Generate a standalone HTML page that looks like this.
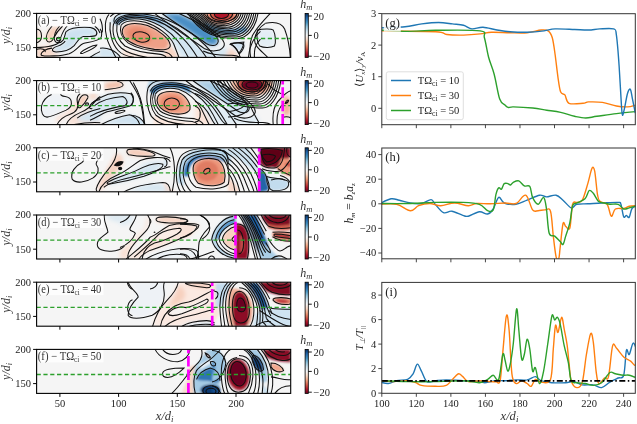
<!DOCTYPE html><html><head><meta charset="utf-8"><style>html,body{margin:0;padding:0;background:#fff;}svg{display:block;will-change:transform}text{font-family:"Liberation Serif", serif;}</style></head><body>
<svg width="637" height="424" viewBox="0 0 637 424">
<defs>
<linearGradient id="rdbu" x1="0" y1="0" x2="0" y2="1"><stop offset="0" stop-color="#053061"/><stop offset="0.1" stop-color="#2166ac"/><stop offset="0.2" stop-color="#4393c3"/><stop offset="0.3" stop-color="#92c5de"/><stop offset="0.4" stop-color="#d1e5f0"/><stop offset="0.5" stop-color="#f7f7f7"/><stop offset="0.6" stop-color="#fddbc7"/><stop offset="0.7" stop-color="#f4a582"/><stop offset="0.8" stop-color="#d6604d"/><stop offset="0.9" stop-color="#b2182b"/><stop offset="1" stop-color="#67001f"/></linearGradient>
<clipPath id="cp0"><rect x="36.6" y="13.4" width="254.1" height="44.0"/></clipPath>
<clipPath id="cp1"><rect x="36.6" y="80.60000000000001" width="254.1" height="44.0"/></clipPath>
<clipPath id="cp2"><rect x="36.6" y="147.8" width="254.1" height="44.0"/></clipPath>
<clipPath id="cp3"><rect x="36.6" y="215.00000000000003" width="254.1" height="44.0"/></clipPath>
<clipPath id="cp4"><rect x="36.6" y="282.2" width="254.1" height="44.0"/></clipPath>
<clipPath id="cp5"><rect x="36.6" y="349.4" width="254.1" height="44.0"/></clipPath>
<clipPath id="cpg"><rect x="381.8" y="13.7" width="253.49999999999994" height="111.0"/></clipPath>
<clipPath id="cph"><rect x="381.8" y="148.0" width="253.49999999999994" height="110.80000000000001"/></clipPath>
<clipPath id="cpi"><rect x="381.8" y="282.4" width="253.49999999999994" height="110.90000000000003"/></clipPath>
<filter id="bl" x="-20%" y="-50%" width="140%" height="200%"><feGaussianBlur stdDeviation="2.5"/></filter>
<filter id="blz" x="-20%" y="-50%" width="140%" height="200%"><feGaussianBlur stdDeviation="18"/></filter>
<filter id="bl2" x="-20%" y="-50%" width="140%" height="200%"><feGaussianBlur stdDeviation="1.5"/></filter>
<filter id="f_a1" x="-50%" y="-50%" width="200%" height="200%"><feGaussianBlur stdDeviation="19.90"/></filter>
<filter id="f_a2" x="-50%" y="-50%" width="200%" height="200%"><feGaussianBlur stdDeviation="13.24"/></filter>
<filter id="f_a3" x="-50%" y="-50%" width="200%" height="200%"><feGaussianBlur stdDeviation="1.20"/></filter>
<filter id="f_a4" x="-50%" y="-50%" width="200%" height="200%"><feGaussianBlur stdDeviation="13.27"/></filter>
<filter id="f_a5" x="-50%" y="-50%" width="200%" height="200%"><feGaussianBlur stdDeviation="17.66"/></filter>
<filter id="f_b1" x="-50%" y="-50%" width="200%" height="200%"><feGaussianBlur stdDeviation="19.90"/></filter>
<filter id="f_b2" x="-50%" y="-50%" width="200%" height="200%"><feGaussianBlur stdDeviation="17.66"/></filter>
<filter id="f_b3" x="-50%" y="-50%" width="200%" height="200%"><feGaussianBlur stdDeviation="11.48"/></filter>
<filter id="f_b4" x="-50%" y="-50%" width="200%" height="200%"><feGaussianBlur stdDeviation="1.00"/></filter>
<filter id="f_b5" x="-50%" y="-50%" width="200%" height="200%"><feGaussianBlur stdDeviation="13.27"/></filter>
<filter id="f_b6" x="-50%" y="-50%" width="200%" height="200%"><feGaussianBlur stdDeviation="17.66"/></filter>
<filter id="f_c1" x="-50%" y="-50%" width="200%" height="200%"><feGaussianBlur stdDeviation="9.95"/></filter>
<filter id="f_c2" x="-50%" y="-50%" width="200%" height="200%"><feGaussianBlur stdDeviation="6.47"/></filter>
<filter id="f_c3" x="-50%" y="-50%" width="200%" height="200%"><feGaussianBlur stdDeviation="10.59"/></filter>
<filter id="f_c4" x="-50%" y="-50%" width="200%" height="200%"><feGaussianBlur stdDeviation="15.93"/></filter>
<filter id="f_d1" x="-50%" y="-50%" width="200%" height="200%"><feGaussianBlur stdDeviation="9.95"/></filter>
<filter id="f_d2" x="-50%" y="-50%" width="200%" height="200%"><feGaussianBlur stdDeviation="9.95"/></filter>
<filter id="f_d3" x="-50%" y="-50%" width="200%" height="200%"><feGaussianBlur stdDeviation="8.83"/></filter>
<filter id="f_d4" x="-50%" y="-50%" width="200%" height="200%"><feGaussianBlur stdDeviation="15.93"/></filter>
<filter id="f_d5" x="-50%" y="-50%" width="200%" height="200%"><feGaussianBlur stdDeviation="11.48"/></filter>
<filter id="f_d6" x="-50%" y="-50%" width="200%" height="200%"><feGaussianBlur stdDeviation="17.66"/></filter>
<filter id="f_e1" x="-50%" y="-50%" width="200%" height="200%"><feGaussianBlur stdDeviation="13.27"/></filter>
<filter id="f_e2" x="-50%" y="-50%" width="200%" height="200%"><feGaussianBlur stdDeviation="9.95"/></filter>
<filter id="f_e3" x="-50%" y="-50%" width="200%" height="200%"><feGaussianBlur stdDeviation="8.83"/></filter>
<filter id="f_e4" x="-50%" y="-50%" width="200%" height="200%"><feGaussianBlur stdDeviation="17.66"/></filter>
<filter id="f_f1" x="-50%" y="-50%" width="200%" height="200%"><feGaussianBlur stdDeviation="9.55"/></filter>
<filter id="f_f2" x="-50%" y="-50%" width="200%" height="200%"><feGaussianBlur stdDeviation="9.55"/></filter></defs>
<rect x="36.6" y="13.4" width="254.1" height="44.0" fill="#f5f5f5"/>
<g clip-path="url(#cp0)">
<g transform="translate(36.0,26.0) scale(0.10050)"><g filter="url(#f_a1)">
 <path d="M0,20 C40,30 55,60 55,100 C55,140 40,160 0,170 Z" fill="#f9e0d3"/>
 <path d="M160,10 C120,45 95,100 105,140 C115,165 150,165 165,140 C180,110 200,60 265,10 Z" fill="#f6cdb8"/>
 <path d="M0,220 C60,200 130,190 200,220 C160,250 170,270 230,270 C280,300 150,320 0,320 Z" fill="#f8d9c9"/>
 <path d="M300,55 C340,20 450,10 540,15 C600,25 620,70 595,95 C570,110 510,100 470,105 C430,115 410,160 380,195 C340,235 270,258 200,258 C160,258 150,235 180,215 C220,195 270,190 290,150 C300,120 280,80 300,55 Z" fill="#cde2f0"/>
 <path d="M520,338 C560,300 600,270 637,255 L637,338 Z" fill="#d6e7f2"/>
</g></g>
<g transform="translate(100.0,12.0) scale(0.11328)"><g filter="url(#f_a2)">
 <path d="M200,150 C220,95 320,90 420,120 C520,160 610,230 620,290 C625,330 570,340 480,330 C380,315 270,280 220,230 C195,200 190,175 200,150 Z" fill="#eea087"/>
 <ellipse cx="350" cy="210" rx="110" ry="70" transform="rotate(15 350 210)" fill="#e98a6f"/>
 <path d="M150,115 C200,60 300,40 420,62 C520,85 600,150 640,210 L660,150 C600,80 480,30 380,22 C280,18 180,35 125,95 Z" fill="#3f87c2"/>
 <path d="M120,90 C180,30 280,15 380,20 L420,0 L250,0 C180,10 110,50 90,100 Z" fill="#b5d3e8"/>
 <path d="M0,320 C60,310 140,340 180,400 L0,400 Z" fill="#d3e5f1"/>
 <path d="M0,150 C20,170 20,220 0,240 Z" fill="#d8e8f2"/>
 <path d="M200,320 C300,370 450,385 640,400 L200,400 Z" fill="#fbe6dc"/>
 <path d="M600,280 C650,320 680,360 700,401 L560,401 Z" fill="#f7d5c5"/>
</g></g>
<g transform="translate(0.0,0.0) scale(1.00000)"><g filter="url(#f_a3)">
 <ellipse cx="221" cy="14" rx="18" ry="10.5" fill="#f4b49b"/>
 <ellipse cx="221.5" cy="14.5" rx="13" ry="7.5" fill="#d8634f"/>
 <ellipse cx="221.5" cy="15" rx="8" ry="4.5" fill="#b1182b"/>
 <path d="M206,22 C215,28 230,32 245,26 L248,31 C232,38 214,35 204,27 Z" fill="#6fa7d3"/>
</g></g>
<g transform="translate(164.0,36.0) scale(0.15072)"><g filter="url(#f_a4)">
 <path d="M-13,-149 C80,-80 200,-10 280,50 C310,70 355,70 360,35 C365,10 300,-60 100,-149 Z" fill="#4a8ec5"/>
 
 
 <path d="M-60,-149 C40,-70 180,20 270,85 C320,110 390,100 400,60 L440,142 L120,142 Z" fill="#d4e6f2"/>
 <path d="M440,50 L530,40 C525,80 510,100 500,110 C480,80 460,60 440,50 Z" fill="#c9dff0"/>
 <path d="M440,80 C470,100 490,120 500,142 L400,142 Z" fill="#f6d3c3"/>
</g></g>
<g transform="translate(228.0,12.0) scale(0.11328)"><g filter="url(#f_a5)">
 <path d="M260,160 C300,150 380,145 400,160 C420,200 425,270 410,300 C380,315 320,320 280,300 C255,270 250,200 260,160 Z" fill="#e3eef5"/>
 <path d="M20,285 C60,270 120,265 140,290 C130,300 80,300 20,285 Z" fill="#c8def0"/>
</g></g>
<g transform="translate(36.0,26.0) scale(0.10050)"><g fill="none" stroke="#111" stroke-width="1.05">
 <path vector-effect="non-scaling-stroke" d="M0,30 C40,30 55,60 55,100 C55,140 40,160 0,170"/>
 <path vector-effect="non-scaling-stroke" d="M160,0 C120,45 95,100 105,140 C115,165 150,165 165,140 C180,110 200,60 265,0"/>
 <ellipse vector-effect="non-scaling-stroke" cx="225" cy="130" rx="21" ry="18"/>
 <path vector-effect="non-scaling-stroke" d="M235,0 C190,50 175,100 185,140 C195,175 245,175 270,140 C290,105 290,70 300,55"/>
 <path vector-effect="non-scaling-stroke" d="M300,55 C340,20 450,10 540,15 C600,25 620,70 595,95 C570,110 510,100 470,105 C430,115 410,160 380,195 C340,235 270,258 200,258 C160,258 150,235 180,215 C220,195 270,190 290,150"/>
 <path vector-effect="non-scaling-stroke" d="M310,0 C260,50 250,110 230,160 C200,200 120,210 0,215"/>
 <path vector-effect="non-scaling-stroke" d="M0,235 C60,215 100,235 90,260"/>
 <path vector-effect="non-scaling-stroke" d="M50,290 C50,250 110,225 160,220"/>
 <path vector-effect="non-scaling-stroke" d="M50,290 C100,305 250,300 330,275 C400,250 430,190 470,175 C530,160 600,150 637,125"/>
 <path vector-effect="non-scaling-stroke" d="M445,265 C480,230 560,195 605,190 C600,205 540,240 470,270 C450,278 440,275 445,265 Z"/>
 <path vector-effect="non-scaling-stroke" d="M500,338 C550,300 600,270 637,255"/>
 <path vector-effect="non-scaling-stroke" d="M585,0 C610,20 630,50 637,70"/>
 <path vector-effect="non-scaling-stroke" d="M0,300 C20,310 35,320 40,338"/>
</g></g>
<g transform="translate(100.0,12.0) scale(0.11328)"><g fill="none" stroke="#111" stroke-width="1.05">
 <ellipse vector-effect="non-scaling-stroke" cx="365" cy="220" rx="75" ry="45" transform="rotate(10 365 220)"/>
 <path vector-effect="non-scaling-stroke" d="M200,150 C220,95 320,90 420,120 C520,160 610,230 620,290 C625,330 570,340 480,330 C380,315 270,280 220,230 C195,200 190,175 200,150 Z"/>
 <path vector-effect="non-scaling-stroke" d="M185,120 C210,75 300,65 400,90 C500,120 610,200 650,280 C670,330 685,370 697,401"/>
 <path vector-effect="non-scaling-stroke" d="M165,115 C190,60 290,50 400,70 C510,95 620,170 690,260 C730,310 760,360 780,401"/>
 <path vector-effect="non-scaling-stroke" d="M150,110 C175,50 280,38 400,52 C520,70 640,140 730,230 C790,290 830,350 860,401"/>
 <path vector-effect="non-scaling-stroke" d="M140,105 C160,40 260,25 390,35 C530,50 660,120 770,210 C850,280 900,340 940,401"/>
 <path vector-effect="non-scaling-stroke" d="M128,100 C140,35 240,15 380,18 C540,30 680,100 810,190 C900,260 970,330 1020,401"/>
 <path vector-effect="non-scaling-stroke" d="M185,120 C170,170 190,230 250,275 C320,320 440,345 560,350 C600,355 630,380 640,401"/>
 <path vector-effect="non-scaling-stroke" d="M150,110 C140,180 160,250 220,300 C300,345 440,365 520,372 C560,378 580,390 585,401"/>
 <path vector-effect="non-scaling-stroke" d="M120,100 C105,180 125,260 190,320 C240,360 320,385 420,401"/>
 <path vector-effect="non-scaling-stroke" d="M128,100 C110,50 140,20 230,5"/>
 <path vector-effect="non-scaling-stroke" d="M90,90 C80,170 100,270 160,340 C200,385 260,395 300,400"/>
 <path vector-effect="non-scaling-stroke" d="M80,20 C40,60 40,150 60,230 C80,300 120,360 140,400"/>
 <path vector-effect="non-scaling-stroke" d="M0,60 C20,100 25,140 20,180"/>
 <path vector-effect="non-scaling-stroke" d="M0,150 C20,170 20,220 0,240"/>
 <path vector-effect="non-scaling-stroke" d="M0,320 C60,310 140,340 180,400"/>
 <path vector-effect="non-scaling-stroke" d="M160,0 C130,10 110,20 90,40"/>
</g></g>
<g transform="translate(0.0,0.0) scale(1.00000)"><g fill="none" stroke="#111" stroke-width="1.05">
 <ellipse vector-effect="non-scaling-stroke" cx="221.5" cy="14.5" rx="7" ry="4"/>
 <ellipse vector-effect="non-scaling-stroke" cx="221.5" cy="14" rx="11" ry="6.5"/>
 <ellipse vector-effect="non-scaling-stroke" cx="222" cy="13.4" rx="15" ry="8.5"/>
<path vector-effect="non-scaling-stroke" d="M204.0,13.4 C208.6,21.1 215.1,22.5 222.5,22.5 C228.3,22.5 235.3,19.3 237.0,13.4"/>
<path vector-effect="non-scaling-stroke" d="M202.4,13.4 C207.8,22.5 215.4,24.1 224.0,24.1 C230.0,24.1 237.3,20.4 239.1,13.4"/>
<path vector-effect="non-scaling-stroke" d="M200.8,13.4 C207.0,23.9 215.6,25.7 225.5,25.7 C231.8,25.7 239.3,21.4 241.2,13.4"/>
<path vector-effect="non-scaling-stroke" d="M199.2,13.4 C206.1,25.2 215.9,27.3 227.0,27.3 C233.5,27.3 241.3,22.4 243.3,13.4"/>
<path vector-effect="non-scaling-stroke" d="M197.6,13.4 C205.3,26.6 216.1,28.9 228.5,28.9 C235.3,28.9 243.4,23.5 245.4,13.4"/>
<path vector-effect="non-scaling-stroke" d="M196.0,13.4 C204.5,27.9 216.4,30.5 230.0,30.5 C237.0,30.5 245.4,24.5 247.5,13.4"/>
<path vector-effect="non-scaling-stroke" d="M194.4,13.4 C203.7,29.3 216.7,32.1 231.5,32.1 C238.7,32.1 247.4,25.6 249.6,13.4"/>
<path vector-effect="non-scaling-stroke" d="M192.8,13.4 C202.9,30.7 216.9,33.7 233.0,33.7 C240.5,33.7 249.5,26.6 251.7,13.4"/>
<path vector-effect="non-scaling-stroke" d="M191.2,13.4 C202.0,32.0 217.2,35.3 234.5,35.3 C242.2,35.3 251.5,27.6 253.8,13.4"/>
<path vector-effect="non-scaling-stroke" d="M189.6,13.4 C201.2,33.4 217.4,36.9 236.0,36.9 C244.0,36.9 253.5,28.7 255.9,13.4"/>
<path vector-effect="non-scaling-stroke" d="M188.0,13.4 C200.4,34.7 217.7,38.5 237.5,38.5 C245.7,38.5 255.5,29.7 258.0,13.4"/>
</g></g>
<g transform="translate(164.0,36.0) scale(0.15072)"><g fill="none" stroke="#111" stroke-width="1.05">
 <path vector-effect="non-scaling-stroke" d="M-13,-149 C80,-80 200,-10 280,50 C310,70 355,70 360,35 C365,10 300,-60 100,-149"/>
 <path vector-effect="non-scaling-stroke" d="M-60,-149 C40,-70 180,20 270,85 C320,110 390,100 400,60 C405,20 330,-40 150,-149"/>
 <path vector-effect="non-scaling-stroke" d="M260,100 C300,120 380,130 450,128 C480,130 500,138 510,145"/>
 <path vector-effect="non-scaling-stroke" d="M440,50 L530,40 C525,80 510,100 495,115 C480,80 460,60 440,50"/>
 <path vector-effect="non-scaling-stroke" d="M560,145 C565,100 570,60 610,0 L640,-30"/>
 <path vector-effect="non-scaling-stroke" d="M600,145 C598,100 600,60 640,20"/>
</g></g>
<g transform="translate(228.0,12.0) scale(0.11328)"><g fill="none" stroke="#111" stroke-width="1.05">
 <path vector-effect="non-scaling-stroke" d="M260,160 C300,150 380,145 400,160 C420,200 425,270 410,300 C380,315 320,320 280,300 C255,270 250,200 260,160 Z"/>
 <path vector-effect="non-scaling-stroke" d="M330,100 C400,85 470,90 500,150 C530,230 545,320 550,400"/>
 <path vector-effect="non-scaling-stroke" d="M385,0 C330,60 250,140 215,210 C190,270 190,340 200,400"/>
 <path vector-effect="non-scaling-stroke" d="M330,100 C280,130 240,190 235,240 C230,300 280,330 350,400"/>
 <path vector-effect="non-scaling-stroke" d="M20,285 C60,270 120,265 140,290 C145,320 120,350 100,370 C80,330 50,300 20,285 Z"/>
 <path vector-effect="non-scaling-stroke" d="M100,370 C100,385 105,395 110,400"/>
</g></g>
<line x1="36.6" y1="38.5" x2="290.7" y2="38.5" stroke="#2ca02c" stroke-width="1.3" stroke-dasharray="4.2,2.6"/>
<!--M0-->
</g>
<rect x="36.6" y="13.4" width="62" height="13" fill="#fff" fill-opacity="0.75"/>
<text x="37.800000000000004" y="24.200000000000003" font-size="12" fill="#333" textLength="58.5" lengthAdjust="spacingAndGlyphs">(a) − TΩ<tspan font-size="8" dy="2">ci</tspan><tspan dy="-2"> = 0</tspan></text>
<rect x="36.6" y="13.4" width="254.1" height="44.0" fill="none" stroke="#000" stroke-width="1.1"/>
<line x1="33.1" y1="13.4" x2="36.6" y2="13.4" stroke="#000" stroke-width="1"/>
<text x="31.1" y="16.8" font-size="10.5" text-anchor="end" fill="#222">200</text>
<line x1="33.1" y1="47.6" x2="36.6" y2="47.6" stroke="#000" stroke-width="1"/>
<text x="31.1" y="51.0" font-size="10.5" text-anchor="end" fill="#222">150</text>
<line x1="59.9" y1="57.4" x2="59.9" y2="60.9" stroke="#000" stroke-width="1"/>
<line x1="118.60000000000001" y1="57.4" x2="118.60000000000001" y2="60.9" stroke="#000" stroke-width="1"/>
<line x1="177.3" y1="57.4" x2="177.3" y2="60.9" stroke="#000" stroke-width="1"/>
<line x1="236.00000000000003" y1="57.4" x2="236.00000000000003" y2="60.9" stroke="#000" stroke-width="1"/>
<text transform="translate(10,35.4) rotate(-90)" font-size="12" text-anchor="middle" font-style="italic" fill="#333">y/d<tspan font-size="8.5" dy="2">i</tspan></text>
<rect x="305.1" y="13.4" width="3.2" height="44.0" fill="url(#rdbu)" stroke="#000" stroke-width="0.8"/>
<line x1="308.3" y1="16.0" x2="311.8" y2="16.0" stroke="#000" stroke-width="0.9"/>
<text x="313.6" y="19.5" font-size="10.5" fill="#222">20</text>
<line x1="308.3" y1="35.4" x2="311.8" y2="35.4" stroke="#000" stroke-width="0.9"/>
<text x="313.6" y="38.9" font-size="10.5" fill="#222">0</text>
<line x1="308.3" y1="56.199999999999996" x2="311.8" y2="56.199999999999996" stroke="#000" stroke-width="0.9"/>
<text x="313.6" y="59.699999999999996" font-size="10.5" fill="#222">−20</text>
<text x="306.4" y="8.4" font-size="12" text-anchor="middle" font-style="italic" fill="#333">h<tspan font-size="8.5" dy="2">m</tspan></text>
<rect x="36.6" y="80.60000000000001" width="254.1" height="44.0" fill="#f5f5f5"/>
<g clip-path="url(#cp1)">
<g transform="translate(36.0,88.0) scale(0.10050)"><g filter="url(#f_b1)">
 <path d="M155,65 C120,80 70,120 55,180 C45,240 70,290 110,290 C160,285 230,250 300,220 C340,200 360,170 350,130 C345,100 320,90 290,85 C260,80 240,70 250,60 Z" fill="#eef2f6"/>
 <path d="M470,70 C500,60 525,75 515,100 C500,130 470,170 440,195 C420,205 410,180 420,150 C430,110 450,80 470,70 Z" fill="#f6c9b4"/>
 <path d="M210,364 C230,320 280,280 340,260 C400,240 430,200 420,150 L380,150 C350,220 300,240 200,300 Z" fill="#f9ddd0"/>
 <path d="M300,364 C320,310 380,270 450,240 C520,210 560,170 637,100 L637,364 Z" fill="#f8dfd3"/>
 <path d="M410,300 C460,260 540,230 637,200 L637,330 C560,340 480,340 410,320 Z" fill="#d3e5f1"/>
</g></g>
<g transform="translate(90.0,79.0) scale(0.11328)"><g filter="url(#f_b2)">
 <path d="M130,90 C200,80 270,85 290,60 C300,40 270,25 240,22 L130,40 Z" fill="#f3b9a0"/>
 <path d="M0,130 C40,120 80,140 60,170 L0,180 Z" fill="#f6d2c0"/>
 <path d="M20,215 C70,170 160,135 280,115 C360,130 385,185 370,230 C330,250 250,265 150,290 C60,340 0,365 0,300 Z" fill="#d9e8f2"/>
 <path d="M100,402 C160,370 260,330 350,315 C400,330 430,370 440,402 Z" fill="#cde1ef"/>
</g></g>
<g transform="translate(131.0,79.0) scale(0.11328)"><g filter="url(#f_b3)">
 <path d="M240,150 C270,110 350,100 420,120 C490,150 530,220 520,270 C500,310 420,320 340,300 C270,280 230,230 230,190 C230,170 235,160 240,150 Z" fill="#f0a58a"/>
 <ellipse cx="360" cy="215" rx="100" ry="75" fill="#e98b70"/>
 <path d="M200,140 C220,90 320,60 420,80 C470,95 510,115 530,130 L520,70 C460,40 380,28 300,30 C230,40 180,70 165,110 Z" fill="#2f78b8"/>
 <path d="M150,100 C170,40 260,20 360,18 L160,14 L140,80 Z" fill="#b8d6ea"/>
 <path d="M0,320 C60,320 100,350 130,402 L0,402 Z" fill="#cde1ef"/>
 <path d="M0,120 C30,150 30,200 0,230 Z" fill="#dde9f2"/>
 <path d="M200,320 C300,370 450,380 565,380 L565,402 L200,402 Z" fill="#fbe6dc"/>
</g></g>
<g transform="translate(0.0,0.0) scale(1.00000)"><g filter="url(#f_b4)">
 <ellipse cx="252" cy="84" rx="21" ry="12" fill="#f2b9a2"/>
 <ellipse cx="252" cy="84.5" rx="15" ry="8.5" fill="#c44a42"/>
 <ellipse cx="252" cy="85" rx="11" ry="6" fill="#6d0621"/>
</g></g>
<g transform="translate(195.0,103.2) scale(0.15072)"><g filter="url(#f_b5)">
 <path d="M-13,-149 C80,-80 200,-10 280,50 C310,70 355,70 360,35 C365,10 300,-60 100,-149 Z" fill="#a9cce4"/>
 <path d="M0,20 C40,30 45,80 20,120 L0,125 Z" fill="#f3b39b"/>
 <path d="M0,-10 C60,20 90,100 130,142 L0,142 Z" fill="#fbe3d8"/>
 <path d="M-60,-149 C40,-70 180,20 270,85 C320,110 390,100 400,60 L440,142 L120,142 Z" fill="#e1edf5"/>
</g></g>
<g transform="translate(228.0,79.0) scale(0.11328)"><g filter="url(#f_b6)">
 <path d="M0,190 C100,190 160,210 170,240 C180,300 90,330 0,330 Z" fill="#d5e7f3"/>
 <path d="M500,140 C540,150 553,180 553,240 C553,300 540,330 500,330 C480,300 480,180 500,140 Z" fill="#f1ad93"/>
</g></g>
<g transform="translate(36.0,88.0) scale(0.10050)"><g fill="none" stroke="#111" stroke-width="1.05">
 <path vector-effect="non-scaling-stroke" d="M155,65 C120,80 70,120 55,180 C45,240 70,290 110,290 C160,285 230,250 300,220 C340,200 360,170 350,130 C345,100 320,90 290,85 C260,80 240,70 250,60"/>
 <path vector-effect="non-scaling-stroke" d="M470,70 C500,60 525,75 515,100 C500,130 470,170 440,195 C420,205 410,180 420,150 C430,110 450,80 470,70 Z"/>
 <ellipse vector-effect="non-scaling-stroke" cx="508" cy="160" rx="15" ry="12"/>
 <path vector-effect="non-scaling-stroke" d="M210,364 C230,320 280,280 340,260 C400,240 430,200 410,130 C405,100 420,70 440,55"/>
 <path vector-effect="non-scaling-stroke" d="M300,364 C320,310 380,270 450,240 C520,210 560,170 600,120 C615,100 630,90 640,85"/>
 <path vector-effect="non-scaling-stroke" d="M410,300 C460,260 540,230 640,205"/>
 <path vector-effect="non-scaling-stroke" d="M560,205 C540,210 520,200 540,170 C560,140 600,120 640,115"/>
 <path vector-effect="non-scaling-stroke" d="M380,364 C450,350 550,340 640,345"/>
</g></g>
<g transform="translate(90.0,79.0) scale(0.11328)"><g fill="none" stroke="#111" stroke-width="1.05">
 <path vector-effect="non-scaling-stroke" d="M130,95 C200,85 270,85 290,60 C300,40 270,25 240,20"/>
 <path vector-effect="non-scaling-stroke" d="M20,215 C40,190 70,170 160,135 C220,120 280,115 360,130 C385,150 390,200 370,230 C330,250 250,265 150,290 C100,310 60,340 0,365"/>
 <path vector-effect="non-scaling-stroke" d="M40,235 C90,195 180,165 290,155 C330,175 340,215 310,235 C240,245 150,265 60,300 C30,315 10,325 0,330"/>
 <ellipse vector-effect="non-scaling-stroke" cx="265" cy="290" rx="45" ry="10" transform="rotate(-12 265 290)"/>
 <path vector-effect="non-scaling-stroke" d="M100,402 C160,370 260,330 350,315 C400,330 430,370 440,402"/>
 <path vector-effect="non-scaling-stroke" d="M350,14 C380,60 420,120 440,180 C460,250 470,330 480,402"/>
</g></g>
<g transform="translate(131.0,79.0) scale(0.11328)"><g fill="none" stroke="#111" stroke-width="1.05">
 <ellipse vector-effect="non-scaling-stroke" cx="360" cy="220" rx="68" ry="52"/>
 <path vector-effect="non-scaling-stroke" d="M240,150 C270,110 350,100 420,120 C490,150 530,220 520,270 C500,310 420,320 340,300 C270,280 230,230 230,190 C230,170 235,160 240,150 Z"/>
 <path vector-effect="non-scaling-stroke" d="M215,135 C240,85 330,70 420,90 C500,115 580,190 620,260 C650,320 670,370 690,402"/>
 <path vector-effect="non-scaling-stroke" d="M200,125 C220,70 320,55 420,70 C520,90 620,160 680,240 C720,300 750,360 770,402"/>
 <path vector-effect="non-scaling-stroke" d="M185,115 C205,55 310,42 410,52 C520,65 640,130 720,210 C780,280 820,350 850,402"/>
 <path vector-effect="non-scaling-stroke" d="M172,108 C190,45 300,30 400,35 C520,45 660,110 760,190 C840,260 890,340 930,402"/>
 <path vector-effect="non-scaling-stroke" d="M215,135 C200,180 215,240 260,285 C320,330 440,345 560,350 C600,360 630,385 640,402"/>
 <path vector-effect="non-scaling-stroke" d="M200,125 C180,185 195,255 240,305 C300,355 440,368 540,375 C570,380 585,395 590,402"/>
 <path vector-effect="non-scaling-stroke" d="M185,115 C160,185 175,265 220,320 C280,370 380,395 480,402"/>
 <path vector-effect="non-scaling-stroke" d="M150,80 C130,150 140,260 180,330 C220,380 280,400 330,410"/>
 <path vector-effect="non-scaling-stroke" d="M150,80 C170,40 210,20 260,14"/>
 <path vector-effect="non-scaling-stroke" d="M20,30 C60,100 100,200 110,300 C115,350 120,400 120,410"/>
 <path vector-effect="non-scaling-stroke" d="M0,120 C30,150 30,200 0,230"/>
 <path vector-effect="non-scaling-stroke" d="M0,320 C60,320 100,350 130,410"/>
</g></g>
<g transform="translate(0.0,0.0) scale(1.00000)"><g fill="none" stroke="#111" stroke-width="1.05">
 <ellipse vector-effect="non-scaling-stroke" cx="252" cy="85" rx="6" ry="3"/>
 <ellipse vector-effect="non-scaling-stroke" cx="252" cy="84.5" rx="10" ry="5.5"/>
 <ellipse vector-effect="non-scaling-stroke" cx="252" cy="84" rx="14" ry="8"/>
<path vector-effect="non-scaling-stroke" d="M236.0,80.6 C240.0,90.3 245.6,92.0 252.0,92.0 C256.8,92.0 262.6,88.0 264.0,80.6"/>
<path vector-effect="non-scaling-stroke" d="M232.8,80.6 C237.9,92.0 245.1,94.0 253.3,94.0 C258.4,94.0 264.6,89.3 266.1,80.6"/>
<path vector-effect="non-scaling-stroke" d="M229.6,80.6 C235.8,93.7 244.6,96.0 254.6,96.0 C260.0,96.0 266.6,90.6 268.2,80.6"/>
<path vector-effect="non-scaling-stroke" d="M226.4,80.6 C233.8,95.4 244.1,98.0 255.9,98.0 C261.7,98.0 268.6,91.9 270.3,80.6"/>
<path vector-effect="non-scaling-stroke" d="M223.2,80.6 C231.7,97.1 243.6,100.0 257.2,100.0 C263.3,100.0 270.6,93.2 272.4,80.6"/>
<path vector-effect="non-scaling-stroke" d="M220.0,80.6 C229.6,98.8 243.1,102.0 258.5,102.0 C264.9,102.0 272.6,94.5 274.5,80.6"/>
<path vector-effect="non-scaling-stroke" d="M216.8,80.6 C227.6,100.5 242.6,104.0 259.8,104.0 C266.5,104.0 274.6,95.8 276.6,80.6"/>
<path vector-effect="non-scaling-stroke" d="M213.6,80.6 C225.5,102.2 242.1,106.0 261.1,106.0 C268.1,106.0 276.6,97.1 278.7,80.6"/>
<path vector-effect="non-scaling-stroke" d="M210.4,80.6 C223.4,103.9 241.6,108.0 262.4,108.0 C269.8,108.0 278.6,98.4 280.8,80.6"/>
</g></g>
<g transform="translate(195.0,103.2) scale(0.15072)"><g fill="none" stroke="#111" stroke-width="1.05">
 <path vector-effect="non-scaling-stroke" d="M0,20 C40,30 45,80 20,120 L0,125"/>
 <path vector-effect="non-scaling-stroke" d="M0,-13 C50,7 85,55 105,95 S127,130 137,145"/>
 <path vector-effect="non-scaling-stroke" d="M0,-65 C70,-45 135,45 165,95 S201,130 211,145"/>
 <path vector-effect="non-scaling-stroke" d="M-13,-149 C80,-80 200,-10 280,50 C310,70 355,70 360,35 C365,10 300,-60 100,-149"/>
 <path vector-effect="non-scaling-stroke" d="M-60,-149 C40,-70 180,20 270,85 C320,110 390,100 400,60 C405,20 330,-40 150,-149"/>
 <path vector-effect="non-scaling-stroke" d="M260,100 C300,120 380,130 450,128 C480,130 500,138 510,145"/>
</g></g>
<g transform="translate(228.0,79.0) scale(0.11328)"><g fill="none" stroke="#111" stroke-width="1.05">
 <path vector-effect="non-scaling-stroke" d="M0,290 C60,280 120,260 140,240 C120,215 60,210 0,220"/>
 <path vector-effect="non-scaling-stroke" d="M0,335 C90,335 185,305 175,240 C165,200 100,185 0,185"/>
 <path vector-effect="non-scaling-stroke" d="M200,240 C215,290 250,340 270,380 C275,395 260,402 255,410"/>
 <path vector-effect="non-scaling-stroke" d="M400,410 C390,320 400,250 440,200 C470,170 500,120 560,100"/>
 <path vector-effect="non-scaling-stroke" d="M435,410 C425,330 445,270 475,230"/>
 <path vector-effect="non-scaling-stroke" d="M480,340 C510,330 540,335 560,345"/>
 <path vector-effect="non-scaling-stroke" d="M505,215 C515,190 530,180 535,190 C530,205 515,215 505,215 Z"/>
 <path vector-effect="non-scaling-stroke" d="M330,14 C360,60 420,110 470,130"/>
</g></g>
<line x1="36.6" y1="105.70000000000002" x2="290.7" y2="105.70000000000002" stroke="#2ca02c" stroke-width="1.3" stroke-dasharray="4.2,2.6"/>
<line x1="282.7" y1="124.6" x2="282.7" y2="80.6" stroke="#f0f" stroke-width="2.7" stroke-dasharray="10.5,2.9"/>
</g>
<rect x="36.6" y="80.60000000000001" width="67" height="13" fill="#fff" fill-opacity="0.75"/>
<text x="37.800000000000004" y="91.4" font-size="12" fill="#333" textLength="63.5" lengthAdjust="spacingAndGlyphs">(b) − TΩ<tspan font-size="8" dy="2">ci</tspan><tspan dy="-2"> = 10</tspan></text>
<rect x="36.6" y="80.60000000000001" width="254.1" height="44.0" fill="none" stroke="#000" stroke-width="1.1"/>
<line x1="33.1" y1="80.60000000000001" x2="36.6" y2="80.60000000000001" stroke="#000" stroke-width="1"/>
<text x="31.1" y="84.00000000000001" font-size="10.5" text-anchor="end" fill="#222">200</text>
<line x1="33.1" y1="114.80000000000001" x2="36.6" y2="114.80000000000001" stroke="#000" stroke-width="1"/>
<text x="31.1" y="118.20000000000002" font-size="10.5" text-anchor="end" fill="#222">150</text>
<line x1="59.9" y1="124.60000000000001" x2="59.9" y2="128.10000000000002" stroke="#000" stroke-width="1"/>
<line x1="118.60000000000001" y1="124.60000000000001" x2="118.60000000000001" y2="128.10000000000002" stroke="#000" stroke-width="1"/>
<line x1="177.3" y1="124.60000000000001" x2="177.3" y2="128.10000000000002" stroke="#000" stroke-width="1"/>
<line x1="236.00000000000003" y1="124.60000000000001" x2="236.00000000000003" y2="128.10000000000002" stroke="#000" stroke-width="1"/>
<text transform="translate(10,102.60000000000001) rotate(-90)" font-size="12" text-anchor="middle" font-style="italic" fill="#333">y/d<tspan font-size="8.5" dy="2">i</tspan></text>
<rect x="305.1" y="80.60000000000001" width="3.2" height="44.0" fill="url(#rdbu)" stroke="#000" stroke-width="0.8"/>
<line x1="308.3" y1="83.2" x2="311.8" y2="83.2" stroke="#000" stroke-width="0.9"/>
<text x="313.6" y="86.7" font-size="10.5" fill="#222">20</text>
<line x1="308.3" y1="102.60000000000001" x2="311.8" y2="102.60000000000001" stroke="#000" stroke-width="0.9"/>
<text x="313.6" y="106.10000000000001" font-size="10.5" fill="#222">0</text>
<line x1="308.3" y1="123.4" x2="311.8" y2="123.4" stroke="#000" stroke-width="0.9"/>
<text x="313.6" y="126.9" font-size="10.5" fill="#222">−20</text>
<text x="306.4" y="75.60000000000001" font-size="12" text-anchor="middle" font-style="italic" fill="#333">h<tspan font-size="8.5" dy="2">m</tspan></text>
<rect x="36.6" y="147.8" width="254.1" height="44.0" fill="#f5f5f5"/>
<g clip-path="url(#cp2)">
<g transform="translate(36.0,146.0) scale(0.20092)"><g filter="url(#f_c1)"></g></g>
<g transform="translate(164.0,146.0) scale(0.20092)"><g filter="url(#f_c2)">
 <path d="M150,90 C170,60 230,55 270,70 C300,90 310,140 300,180 C280,200 220,205 170,185 C145,160 140,110 150,90 Z" fill="#ec977c"/>
 <ellipse cx="215" cy="125" rx="55" ry="50" fill="#e07c64"/>
 <path d="M100,150 C90,90 120,40 190,32 C250,28 290,40 315,65 L300,80 C260,58 220,52 180,62 C140,72 120,110 122,150 Z" fill="#2a74b5"/>
 <path d="M70,180 C60,110 90,30 170,15 L300,12 C330,30 340,60 330,90 C300,60 240,40 180,45 C110,55 85,120 100,200 Z" fill="#b7d6ea"/>
 <path d="M0,180 C20,200 40,220 60,228 L0,228 Z" fill="#f8dcd0"/>
 <path d="M0,60 C20,70 20,100 0,105 Z" fill="#d6e7f2"/>
</g></g>
<g transform="translate(228.0,146.0) scale(0.11328)"><g filter="url(#f_c3)">
 <path d="M0,20 L180,16 C220,100 250,170 270,200 L250,240 C150,150 80,100 0,80 Z" fill="#cfe3f0"/>
 <path d="M0,280 C40,300 80,360 100,404 L0,404 Z" fill="#f8d8c9"/>
 <path d="M280,16 L553,16 L553,90 C520,130 480,170 420,195 C350,200 300,180 280,150 Z" fill="#7d0b24"/>
 <path d="M290,30 C330,20 420,20 480,40 C470,120 420,160 340,170 C310,150 295,100 290,30 Z" fill="#5e0519"/>
 <path d="M470,110 C500,110 540,110 553,110 L553,270 C520,260 470,240 430,205 C450,170 460,140 470,110 Z" fill="#ee987c"/>
 <path d="M553,140 L553,190 C530,180 510,170 500,160 Z" fill="#c23b38"/>
 <path d="M275,200 C310,210 345,260 365,330 C375,380 350,404 275,404 Z" fill="#2465a8"/>
 <path d="M340,270 C400,290 470,280 530,310 C550,360 520,395 400,395 C360,385 340,330 340,270 Z" fill="#c2dcee"/>
 <path d="M380,190 C420,200 450,240 460,290 L380,290 Z" fill="#f4f4f4"/>
</g></g>
<g transform="translate(90.0,146.0) scale(0.12559)"><g filter="url(#f_c4)">
 <path d="M300,30 C320,20 420,25 480,45 C520,60 530,75 500,80 C440,85 360,80 310,70 C290,55 290,40 300,30 Z" fill="#f6c6b1"/>
 <path d="M210,60 C250,60 280,100 250,160 C200,230 150,280 100,340 L60,361 C60,300 120,220 210,60 Z" fill="#f8d3c2"/>
 <path d="M140,290 C200,250 300,230 380,190 C460,150 540,130 580,145 C590,170 520,210 430,240 C330,270 230,290 170,300 C140,305 130,300 140,290 Z" fill="#d3e5f1"/>
 <path d="M400,150 C460,120 540,110 580,120 L580,140 C520,130 460,150 400,170 Z" fill="#dbe9f3"/>
 <path d="M300,361 C360,330 460,300 560,300 L637,361 Z" fill="#d5e6f1"/>
</g></g>
<g transform="translate(36.0,146.0) scale(0.20092)"><g fill="none" stroke="#111" stroke-width="1.05">
 <path vector-effect="non-scaling-stroke" d="M330,40 C320,60 295,75 300,92 C315,112 315,138 282,160 C250,180 200,190 180,165 C170,130 195,100 225,85 C240,75 240,65 232,58"/>
</g></g>
<g transform="translate(164.0,146.0) scale(0.20092)"><g fill="none" stroke="#111" stroke-width="1.05">
 <ellipse vector-effect="non-scaling-stroke" cx="213" cy="125" rx="18" ry="11" transform="rotate(-35 213 125)"/>
 <path vector-effect="non-scaling-stroke" d="M150,90 C170,60 230,55 270,70 C300,90 310,140 300,180 C280,200 220,205 170,185 C145,160 140,110 150,90 Z"/>
 <path vector-effect="non-scaling-stroke" d="M125,85 C150,45 230,38 280,55 C320,80 330,150 320,190 C300,215 220,220 160,205 C120,180 110,120 125,85 Z"/>
 <path vector-effect="non-scaling-stroke" d="M105,80 C130,35 230,25 290,45 C312,60 318,85 320,109"/>
 <path vector-effect="non-scaling-stroke" d="M105,80 C85,130 95,190 140,232"/>
 <path vector-effect="non-scaling-stroke" d="M90,70 C115,25 230,10 300,25 C315,35 318,55 320,84"/>
 <path vector-effect="non-scaling-stroke" d="M90,70 C70,120 75,190 110,232"/>
 <path vector-effect="non-scaling-stroke" d="M78,60 C95,25 150,9 250,12 C290,15 310,30 320,61"/>
 <path vector-effect="non-scaling-stroke" d="M200,9 C260,12 300,20 320,39"/>
 <path vector-effect="non-scaling-stroke" d="M78,60 C55,110 55,190 85,232"/>
 <path vector-effect="non-scaling-stroke" d="M30,9 C55,60 60,150 40,232"/>
 <path vector-effect="non-scaling-stroke" d="M0,60 C20,70 20,100 0,105"/>
</g></g>
<g transform="translate(228.0,146.0) scale(0.11328)"><g fill="none" stroke="#111" stroke-width="1.05">
 <path vector-effect="non-scaling-stroke" d="M0,30 C60,60 150,150 200,240 C230,300 250,360 260,404"/>
 <path vector-effect="non-scaling-stroke" d="M0,70 C60,100 130,180 170,260 C200,320 220,370 230,404"/>
 <path vector-effect="non-scaling-stroke" d="M0,110 C50,140 110,210 140,280 C160,330 180,380 190,404"/>
 <path vector-effect="non-scaling-stroke" d="M0,150 C40,180 90,240 110,300 C125,340 140,380 145,404"/>
 <path vector-effect="non-scaling-stroke" d="M0,195 C30,220 60,270 80,320 C90,350 100,385 105,404"/>
 <path vector-effect="non-scaling-stroke" d="M0,240 C20,260 40,300 50,340 C55,370 60,395 62,404"/>
 <path vector-effect="non-scaling-stroke" d="M40,16 C100,60 190,140 240,220 C260,260 270,290 275,310"/>
 <path vector-effect="non-scaling-stroke" d="M90,16 C150,60 220,130 260,190"/>
 <path vector-effect="non-scaling-stroke" d="M150,16 C200,60 240,110 270,160"/>
 <path vector-effect="non-scaling-stroke" d="M200,16 C230,50 255,90 275,120"/>
 <path vector-effect="non-scaling-stroke" d="M290,30 C330,20 420,20 480,40 C470,120 420,160 340,170 C310,150 295,100 290,30 Z"/>
 <path vector-effect="non-scaling-stroke" d="M300,80 C340,70 400,70 420,90 C410,120 380,140 340,140 C320,120 305,100 300,80 Z"/>
 <path vector-effect="non-scaling-stroke" d="M285,160 C320,190 380,200 430,190 C470,170 490,130 500,16"/>
 <path vector-effect="non-scaling-stroke" d="M300,200 C340,220 400,230 460,220 C510,200 530,140 553,120"/>
 <path vector-effect="non-scaling-stroke" d="M440,200 C480,230 520,250 553,260"/>
 <path vector-effect="non-scaling-stroke" d="M280,200 C310,210 340,260 360,330 C370,380 350,404 340,410"/>
 <path vector-effect="non-scaling-stroke" d="M340,270 C400,290 470,280 530,310 C550,360 520,395 400,395 C360,385 340,330 340,270"/>
 <path vector-effect="non-scaling-stroke" d="M380,300 C420,290 470,280 500,300"/>
 <path vector-effect="non-scaling-stroke" d="M460,260 C500,270 540,300 553,330"/>
 <path vector-effect="non-scaling-stroke" d="M520,16 C510,60 530,90 553,100"/>
</g></g>
<g transform="translate(90.0,146.0) scale(0.12559)"><g fill="none" stroke="#111" stroke-width="1.05">
 <path vector-effect="non-scaling-stroke" d="M210,16 C218,60 200,120 150,180 C100,240 60,300 50,340 C48,350 52,358 58,365"/>
 <path vector-effect="non-scaling-stroke" d="M300,30 C320,20 420,25 480,45 C520,60 530,75 500,80 C440,85 360,80 310,70 C290,55 290,40 300,30 Z"/>
 <path vector-effect="non-scaling-stroke" d="M70,365 C90,300 150,260 230,225 C300,195 340,150 400,115 C460,90 560,85 610,100 C630,110 637,120 640,125"/>
 <path vector-effect="non-scaling-stroke" d="M140,290 C200,250 300,230 380,190 C460,150 540,130 580,145 C590,170 520,210 430,240 C330,270 230,290 170,300 C140,305 130,300 140,290 Z"/>
 <path vector-effect="non-scaling-stroke" d="M110,330 C150,290 230,270 320,250 C420,225 520,200 600,175 C620,168 630,165 640,165"/>
 <path vector-effect="non-scaling-stroke" d="M270,365 C330,330 460,300 580,290 C630,290 637,330 640,361"/>
 <path vector-effect="non-scaling-stroke" d="M205,150 C215,135 240,125 255,130 C250,145 225,155 205,150 Z" stroke-width="2.5"/>
 <ellipse vector-effect="non-scaling-stroke" cx="240" cy="180" rx="9" ry="6" stroke-width="2"/>
 <path vector-effect="non-scaling-stroke" d="M340,16 C400,20 480,30 540,60 C580,80 620,90 640,95"/>
</g></g>
<line x1="36.6" y1="172.9" x2="290.7" y2="172.9" stroke="#2ca02c" stroke-width="1.3" stroke-dasharray="4.2,2.6"/>
<line x1="259.2" y1="191.8" x2="259.2" y2="147.8" stroke="#f0f" stroke-width="2.7" stroke-dasharray="10.5,2.9"/>
</g>
<rect x="36.6" y="147.8" width="67" height="13" fill="#fff" fill-opacity="0.75"/>
<text x="37.800000000000004" y="158.60000000000002" font-size="12" fill="#333" textLength="63.5" lengthAdjust="spacingAndGlyphs">(c) − TΩ<tspan font-size="8" dy="2">ci</tspan><tspan dy="-2"> = 20</tspan></text>
<rect x="36.6" y="147.8" width="254.1" height="44.0" fill="none" stroke="#000" stroke-width="1.1"/>
<line x1="33.1" y1="147.8" x2="36.6" y2="147.8" stroke="#000" stroke-width="1"/>
<text x="31.1" y="151.20000000000002" font-size="10.5" text-anchor="end" fill="#222">200</text>
<line x1="33.1" y1="182.0" x2="36.6" y2="182.0" stroke="#000" stroke-width="1"/>
<text x="31.1" y="185.4" font-size="10.5" text-anchor="end" fill="#222">150</text>
<line x1="59.9" y1="191.8" x2="59.9" y2="195.3" stroke="#000" stroke-width="1"/>
<line x1="118.60000000000001" y1="191.8" x2="118.60000000000001" y2="195.3" stroke="#000" stroke-width="1"/>
<line x1="177.3" y1="191.8" x2="177.3" y2="195.3" stroke="#000" stroke-width="1"/>
<line x1="236.00000000000003" y1="191.8" x2="236.00000000000003" y2="195.3" stroke="#000" stroke-width="1"/>
<text transform="translate(10,169.8) rotate(-90)" font-size="12" text-anchor="middle" font-style="italic" fill="#333">y/d<tspan font-size="8.5" dy="2">i</tspan></text>
<rect x="305.1" y="147.8" width="3.2" height="44.0" fill="url(#rdbu)" stroke="#000" stroke-width="0.8"/>
<line x1="308.3" y1="150.4" x2="311.8" y2="150.4" stroke="#000" stroke-width="0.9"/>
<text x="313.6" y="153.9" font-size="10.5" fill="#222">20</text>
<line x1="308.3" y1="169.8" x2="311.8" y2="169.8" stroke="#000" stroke-width="0.9"/>
<text x="313.6" y="173.3" font-size="10.5" fill="#222">0</text>
<line x1="308.3" y1="190.60000000000002" x2="311.8" y2="190.60000000000002" stroke="#000" stroke-width="0.9"/>
<text x="313.6" y="194.10000000000002" font-size="10.5" fill="#222">−20</text>
<text x="306.4" y="142.8" font-size="12" text-anchor="middle" font-style="italic" fill="#333">h<tspan font-size="8.5" dy="2">m</tspan></text>
<rect x="36.6" y="215.00000000000003" width="254.1" height="44.0" fill="#f5f5f5"/>
<g clip-path="url(#cp3)">
<g transform="translate(36.0,213.0) scale(0.20092)"><g filter="url(#f_d1)">
 <path d="M340,10 L470,10 C470,30 450,45 420,45 C390,45 360,30 340,10 Z" fill="#dbe9f2"/>
</g></g>
<g transform="translate(164.0,213.0) scale(0.20092)"><g filter="url(#f_d2)"></g></g>
<g transform="translate(234.0,213.0) scale(0.11328)"><g filter="url(#f_d3)">
 <path d="M15,100 C60,90 110,110 125,200 C135,300 125,380 115,406 L15,406 Z" fill="#8e0d26"/>
 <path d="M50,200 C70,190 90,230 90,300 C85,340 70,360 50,340 Z" fill="#c14a48"/>
 <path d="M60,18 L200,18 C230,100 250,200 270,300 L230,380 C180,300 140,200 100,120 C80,80 70,50 60,18 Z" fill="#6d7f94"/>
 <path d="M110,18 L190,18 C230,100 270,200 310,310 C320,350 290,350 270,320 C230,240 180,140 110,18 Z" fill="#1f5ea3"/>
 <path d="M230,250 C280,280 330,330 380,380 C400,400 420,406 430,406 L230,406 C220,350 220,300 230,250 Z" fill="#a9cde5"/>
 <path d="M240,18 L500,18 L500,130 C440,140 360,140 300,110 C270,80 250,50 240,18 Z" fill="#7f0a23"/>
 <path d="M300,100 C360,120 440,110 500,100 L500,150 C420,160 340,150 300,130 Z" fill="#d0604f"/>
 <path d="M340,170 C400,165 460,170 500,175 L500,250 C450,250 380,235 340,210 Z" fill="#e58a72"/>
 <path d="M360,185 C420,185 470,195 500,200 L500,225 C460,222 400,215 360,205 Z" fill="#a51a2c"/>
</g></g>
<g transform="translate(120.0,213.0) scale(0.12559)"><g filter="url(#f_d4)">
 <path d="M220,16 C250,60 220,140 150,200 C100,250 70,300 65,366 L0,366 L0,300 C60,260 120,200 200,120 Z" fill="#fae1d5"/>
 <path d="M0,16 L120,16 C120,60 80,100 0,100 Z" fill="#e3edf4"/>
</g></g>
<g transform="translate(180.0,213.0) scale(0.11321)"><g filter="url(#f_d5)">
 <path d="M470,30 C380,40 300,130 280,230 L345,230 C350,170 420,100 490,90 L490,30 Z" fill="#4a8fc6"/>
 <path d="M470,30 C380,40 300,130 280,230 C300,330 400,390 480,400 L480,380 C410,370 330,310 315,230 C330,150 400,70 480,60 Z" fill="#b5d5ea"/>
 <path d="M490,120 C440,130 380,180 375,230 C385,280 440,320 490,330 Z" fill="#f8d2c0"/>
 <path d="M0,100 C60,100 150,110 100,200 C60,220 20,225 0,220 Z" fill="#f9e1d6"/>
 <path d="M0,320 C80,310 130,330 150,406 L0,406 Z" fill="#fae3d9"/>
</g></g>
<g transform="translate(150.0,213.0) scale(0.11328)"><g filter="url(#f_d6)">
 <path d="M60,45 C80,30 200,30 300,50 C340,60 340,80 300,85 C220,90 110,85 70,75 C50,65 50,55 60,45 Z" fill="#f7cdb9"/>
 <path d="M-200,406 C-100,330 60,190 170,110 C250,90 380,85 430,105 C440,130 400,160 320,200 C240,240 120,290 0,330 C-60,360 -100,390 -110,406 Z" fill="#fae2d7"/>
 <path d="M75,190 C120,160 180,140 260,135 C285,140 280,160 240,185 C180,220 100,250 40,265 Z" fill="#fbeee8"/>
 <path d="M0,380 C100,330 250,310 380,320 C420,330 430,370 430,406 L0,406 Z" fill="#eef3f7"/>
</g></g>
<g transform="translate(36.0,213.0) scale(0.20092)"><g fill="none" stroke="#111" stroke-width="1.05">
 <path vector-effect="non-scaling-stroke" d="M340,10 C335,40 355,70 358,95 C340,115 305,125 305,155 C305,182 335,192 375,190 C410,188 430,175 440,165"/>
</g></g>
<g transform="translate(164.0,213.0) scale(0.20092)"><g fill="none" stroke="#111" stroke-width="1.05">
 <path vector-effect="non-scaling-stroke" d="M180,10 C200,20 220,40 225,60 C235,90 220,110 190,130"/>
 <path vector-effect="non-scaling-stroke" d="M130,229 C180,220 220,200 250,190"/>
</g></g>
<g transform="translate(234.0,213.0) scale(0.11328)"><g fill="none" stroke="#111" stroke-width="1.05">
 <path vector-effect="non-scaling-stroke" d="M15,100 C60,90 110,110 125,200 C135,300 125,380 115,410"/>
 <path vector-effect="non-scaling-stroke" d="M30,150 C60,150 80,200 85,260 C85,320 70,360 40,360"/>
 <path vector-effect="non-scaling-stroke" d="M40,18 C90,80 120,160 150,260 C165,320 180,370 190,410"/>
 <path vector-effect="non-scaling-stroke" d="M60,18 C105,80 140,160 170,260 C185,320 200,370 210,410"/>
 <path vector-effect="non-scaling-stroke" d="M80,18 C125,80 160,160 190,250 C205,300 220,350 240,410"/>
 <path vector-effect="non-scaling-stroke" d="M95,18 C140,80 175,150 205,240 C220,290 240,340 260,380"/>
 <path vector-effect="non-scaling-stroke" d="M110,18 C150,80 190,150 220,230 C240,280 260,330 280,350"/>
 <path vector-effect="non-scaling-stroke" d="M125,18 C165,80 200,150 235,230 C260,290 290,340 320,350 C330,330 300,300 280,260"/>
 <path vector-effect="non-scaling-stroke" d="M150,18 C190,80 220,150 250,220"/>
 <path vector-effect="non-scaling-stroke" d="M175,18 C210,70 240,130 270,190"/>
 <path vector-effect="non-scaling-stroke" d="M200,18 C230,60 255,110 285,160"/>
 <path vector-effect="non-scaling-stroke" d="M240,18 C260,60 280,100 310,120 C380,145 440,140 500,130"/>
 <path vector-effect="non-scaling-stroke" d="M270,18 C290,50 320,80 380,85 C430,88 470,70 490,18"/>
 <path vector-effect="non-scaling-stroke" d="M310,18 C330,40 370,50 410,48 C440,45 455,30 460,18"/>
 <path vector-effect="non-scaling-stroke" d="M340,170 C400,165 460,170 500,175"/>
 <path vector-effect="non-scaling-stroke" d="M360,185 C420,185 470,195 500,200 M500,225 C460,222 400,215 360,205 C350,195 350,190 360,185"/>
 <path vector-effect="non-scaling-stroke" d="M340,210 C380,235 450,250 500,250"/>
 <path vector-effect="non-scaling-stroke" d="M300,220 C320,260 350,300 390,330 C420,350 440,320 470,300 C490,290 500,290 500,290"/>
 <path vector-effect="non-scaling-stroke" d="M330,406 C360,380 400,370 440,390 C460,400 470,406 470,410"/>
</g></g>
<g transform="translate(120.0,213.0) scale(0.12559)"><g fill="none" stroke="#111" stroke-width="1.05">
 <path vector-effect="non-scaling-stroke" d="M0,75 C40,65 65,45 80,16"/>
 <path vector-effect="non-scaling-stroke" d="M130,16 C125,60 85,100 78,128 C80,148 110,142 122,162 C100,220 50,255 0,275"/>
 <path vector-effect="non-scaling-stroke" d="M220,16 C250,60 240,110 200,150 C150,200 100,250 75,300 C60,330 62,355 68,366"/>
</g></g>
<g transform="translate(180.0,213.0) scale(0.11321)"><g fill="none" stroke="#111" stroke-width="1.05">
 <path vector-effect="non-scaling-stroke" d="M470,30 C380,40 300,130 280,230 C300,330 400,390 480,400"/>
 <path vector-effect="non-scaling-stroke" d="M480,60 C400,70 330,150 315,230 C330,310 410,370 480,380"/>
 <path vector-effect="non-scaling-stroke" d="M490,90 C420,100 350,170 345,230 C355,290 420,350 490,360"/>
 <path vector-effect="non-scaling-stroke" d="M490,120 C440,130 380,180 375,230 C385,280 440,320 490,330"/>
 <path vector-effect="non-scaling-stroke" d="M490,200 C470,210 455,230 460,240 C470,250 480,255 490,255"/>
 <path vector-effect="non-scaling-stroke" d="M0,50 C40,50 70,60 70,70 C60,85 30,90 0,90"/>
 <path vector-effect="non-scaling-stroke" d="M0,100 C60,100 160,105 150,125 C130,170 60,215 0,222"/>
 <path vector-effect="non-scaling-stroke" d="M0,320 C80,310 130,330 150,410"/>
 <path vector-effect="non-scaling-stroke" d="M0,360 C50,360 80,380 90,410"/>
 <path vector-effect="non-scaling-stroke" d="M250,410 C255,380 280,370 300,390 C305,400 305,405 305,410"/>
</g></g>
<g transform="translate(150.0,213.0) scale(0.11328)"><g fill="none" stroke="#111" stroke-width="1.05">
 <path vector-effect="non-scaling-stroke" d="M60,45 C80,30 200,30 300,50 C340,60 340,80 300,85 C220,90 110,85 70,75 C50,65 50,55 60,45 Z"/>
 <path vector-effect="non-scaling-stroke" d="M-210,406 C-120,330 -40,270 0,215 C60,190 110,140 170,110 C250,90 380,85 430,105 C440,130 400,160 320,200 C240,240 120,290 0,330 C-50,355 -90,390 -100,410"/>
 <path vector-effect="non-scaling-stroke" d="M-140,390 C-60,320 20,250 75,190 C120,160 180,140 260,135 C285,140 280,160 240,185 C180,220 100,250 40,265 C-20,290 -60,330 -70,410"/>
 <path vector-effect="non-scaling-stroke" d="M440,18 C500,50 540,90 520,130 C470,180 430,230 430,290 C430,340 420,380 410,410"/>
 <path vector-effect="non-scaling-stroke" d="M-40,410 C20,370 120,330 250,315 C330,310 400,315 420,340 C430,360 430,390 430,410"/>
 <path vector-effect="non-scaling-stroke" d="M60,410 C120,370 220,355 300,370 C320,380 330,395 330,410"/>
 <ellipse vector-effect="non-scaling-stroke" cx="40" cy="170" rx="3" ry="3"/>
 <path vector-effect="non-scaling-stroke" d="M0,55 C10,65 10,85 0,92"/>
</g></g>
<line x1="36.6" y1="240.10000000000002" x2="290.7" y2="240.10000000000002" stroke="#2ca02c" stroke-width="1.3" stroke-dasharray="4.2,2.6"/>
<line x1="235.5" y1="259.0" x2="235.5" y2="215.0" stroke="#f0f" stroke-width="2.7" stroke-dasharray="10.5,2.9"/>
</g>
<rect x="36.6" y="215.00000000000003" width="67" height="13" fill="#fff" fill-opacity="0.75"/>
<text x="37.800000000000004" y="225.80000000000004" font-size="12" fill="#333" textLength="63.5" lengthAdjust="spacingAndGlyphs">(d) − TΩ<tspan font-size="8" dy="2">ci</tspan><tspan dy="-2"> = 30</tspan></text>
<rect x="36.6" y="215.00000000000003" width="254.1" height="44.0" fill="none" stroke="#000" stroke-width="1.1"/>
<line x1="33.1" y1="215.00000000000003" x2="36.6" y2="215.00000000000003" stroke="#000" stroke-width="1"/>
<text x="31.1" y="218.40000000000003" font-size="10.5" text-anchor="end" fill="#222">200</text>
<line x1="33.1" y1="249.20000000000005" x2="36.6" y2="249.20000000000005" stroke="#000" stroke-width="1"/>
<text x="31.1" y="252.60000000000005" font-size="10.5" text-anchor="end" fill="#222">150</text>
<line x1="59.9" y1="259.0" x2="59.9" y2="262.5" stroke="#000" stroke-width="1"/>
<line x1="118.60000000000001" y1="259.0" x2="118.60000000000001" y2="262.5" stroke="#000" stroke-width="1"/>
<line x1="177.3" y1="259.0" x2="177.3" y2="262.5" stroke="#000" stroke-width="1"/>
<line x1="236.00000000000003" y1="259.0" x2="236.00000000000003" y2="262.5" stroke="#000" stroke-width="1"/>
<text transform="translate(10,237.00000000000003) rotate(-90)" font-size="12" text-anchor="middle" font-style="italic" fill="#333">y/d<tspan font-size="8.5" dy="2">i</tspan></text>
<rect x="305.1" y="215.00000000000003" width="3.2" height="44.0" fill="url(#rdbu)" stroke="#000" stroke-width="0.8"/>
<line x1="308.3" y1="217.60000000000002" x2="311.8" y2="217.60000000000002" stroke="#000" stroke-width="0.9"/>
<text x="313.6" y="221.10000000000002" font-size="10.5" fill="#222">20</text>
<line x1="308.3" y1="237.00000000000003" x2="311.8" y2="237.00000000000003" stroke="#000" stroke-width="0.9"/>
<text x="313.6" y="240.50000000000003" font-size="10.5" fill="#222">0</text>
<line x1="308.3" y1="257.8" x2="311.8" y2="257.8" stroke="#000" stroke-width="0.9"/>
<text x="313.6" y="261.3" font-size="10.5" fill="#222">−20</text>
<text x="306.4" y="210.00000000000003" font-size="12" text-anchor="middle" font-style="italic" fill="#333">h<tspan font-size="8.5" dy="2">m</tspan></text>
<rect x="36.6" y="282.2" width="254.1" height="44.0" fill="#f5f5f5"/>
<g clip-path="url(#cp4)">
<g transform="translate(36.0,281.0) scale(0.15072)"><g filter="url(#f_e1)"></g></g>
<g transform="translate(100.0,281.0) scale(0.20092)"><g filter="url(#f_e2)">
 <path d="M150,8 C190,40 200,70 150,110 C140,140 150,185 220,180 C300,150 320,110 320,8 Z" fill="#eef2f6"/>
</g></g>
<g transform="translate(212.0,281.0) scale(0.11328)"><g filter="url(#f_e3)">
 <path d="M0,11 C40,30 60,60 60,90 L60,300 C40,330 20,360 0,399 Z" fill="#f9e4da"/>
 <path d="M30,20 L170,20 C150,80 110,150 80,230 L30,230 Z" fill="#c3dcee"/>
 <path d="M150,70 C250,50 360,120 360,250 C360,330 340,399 300,399 L160,399 C130,330 130,150 150,70 Z" fill="#f2b39b"/>
 <path d="M240,90 C300,90 330,180 330,260 C330,330 320,399 290,399 L200,399 C185,330 180,300 180,220 C180,140 200,95 240,90 Z" fill="#8d0b25"/>
 <path d="M250,150 C280,150 295,200 295,240 C290,270 270,275 250,270 C225,265 215,230 220,190 C225,165 235,150 250,150 Z" fill="#690320"/>
 <path d="M290,11 L360,11 C400,80 440,150 470,260 L430,260 C390,160 340,90 290,11 Z" fill="#7d8fa3"/>
 <path d="M330,20 L400,20 C440,80 470,150 500,250 C480,280 460,270 440,240 C410,160 370,90 330,20 Z" fill="#1e5b9f"/>
 <path d="M380,300 C420,260 480,230 540,240 C600,250 650,240 697,230 L697,399 L360,399 Z" fill="#cfe3f1"/>
 <path d="M420,11 L697,11 L697,125 C620,130 540,120 480,90 C450,60 430,40 420,11 Z" fill="#820b24"/>
 <path d="M540,160 C560,140 660,145 700,160 C720,180 710,200 680,205 C630,210 570,200 540,170 Z" fill="#e4826c"/>
 <path d="M570,165 C610,160 650,170 680,180 C660,195 610,195 570,180 Z" fill="#b52230"/>
</g></g>
<g transform="translate(150.0,281.0) scale(0.11328)"><g filter="url(#f_e4)">
 <path d="M250,11 C240,60 200,120 150,170 C100,220 50,290 20,399 L560,399 L560,11 Z" fill="#fbe9e1"/>
 <path d="M310,20 C330,40 420,50 500,60 C540,60 545,40 520,30 C460,20 380,15 310,20 Z" fill="#f5c3ad"/>
 <path d="M250,40 C300,60 330,100 300,160 C260,200 200,220 160,240 C200,160 230,100 250,40 Z" fill="#f7d0be"/>
 <path d="M160,290 C190,240 260,220 320,235 C370,230 440,190 500,160 C520,160 520,185 490,200 C440,230 350,260 280,290 C220,310 170,310 160,290 Z" fill="#f6f4f3"/>
 <path d="M270,399 C320,370 420,350 500,350 C530,350 550,360 565,370 L565,399 Z" fill="#dde9f2"/>
</g></g>
<g transform="translate(36.0,281.0) scale(0.15072)"><g fill="none" stroke="#111" stroke-width="1.05">
 <path vector-effect="non-scaling-stroke" d="M605,8 C610,30 625,50 640,55"/>
 <path vector-effect="non-scaling-stroke" d="M640,125 C620,130 605,160 608,190 C612,215 628,228 640,230"/>
</g></g>
<g transform="translate(100.0,281.0) scale(0.20092)"><g fill="none" stroke="#111" stroke-width="1.05">
 <path vector-effect="non-scaling-stroke" d="M140,6 C150,40 190,60 190,80 C160,110 140,140 140,170 C150,190 200,190 260,170 C300,150 320,110 320,70 C320,40 310,20 322,6"/>
</g></g>
<g transform="translate(212.0,281.0) scale(0.11328)"><g fill="none" stroke="#111" stroke-width="1.05">
 <path vector-effect="non-scaling-stroke" d="M20,90 C60,90 65,130 30,160"/>
 <path vector-effect="non-scaling-stroke" d="M240,90 C300,90 330,180 330,260 C330,330 300,370 250,370 C200,365 180,300 180,220 C180,140 200,95 240,90 Z"/>
 <path vector-effect="non-scaling-stroke" d="M250,150 C280,150 295,200 295,240 C290,270 270,275 250,270 C225,265 215,230 220,190 C225,165 235,150 250,150 Z"/>
 <path vector-effect="non-scaling-stroke" d="M240,60 C330,60 370,160 370,260 C370,330 350,380 330,410"/>
 <path vector-effect="non-scaling-stroke" d="M230,11 C170,40 150,120 150,220 C150,300 170,360 180,410"/>
 <path vector-effect="non-scaling-stroke" d="M200,11 C140,50 120,130 120,220 C120,300 140,360 150,410"/>
 <path vector-effect="non-scaling-stroke" d="M170,11 C110,60 95,140 95,220 C95,300 110,360 115,410"/>
 <path vector-effect="non-scaling-stroke" d="M140,11 C80,70 70,140 70,220 C70,300 80,360 85,410"/>
 <path vector-effect="non-scaling-stroke" d="M260,11 C320,60 380,140 400,230 C410,290 400,350 390,410"/>
 <path vector-effect="non-scaling-stroke" d="M285,11 C345,60 400,140 420,230 C430,290 425,350 420,399"/>
 <path vector-effect="non-scaling-stroke" d="M310,11 C370,60 420,140 440,230 C450,280 450,330 445,360"/>
 <path vector-effect="non-scaling-stroke" d="M335,11 C390,60 440,140 460,230 C470,270 475,310 480,330"/>
 <path vector-effect="non-scaling-stroke" d="M360,11 C410,60 455,130 480,220 C495,260 510,290 520,310"/>
 <path vector-effect="non-scaling-stroke" d="M385,11 C430,60 470,120 495,190 C505,230 520,260 530,290"/>
 <path vector-effect="non-scaling-stroke" d="M410,11 C450,50 480,100 510,160"/>
 <path vector-effect="non-scaling-stroke" d="M430,11 C460,50 490,80 530,100 C600,125 650,125 697,120"/>
 <path vector-effect="non-scaling-stroke" d="M480,11 C500,40 540,60 590,65 C640,65 680,50 697,30"/>
 <path vector-effect="non-scaling-stroke" d="M530,11 C550,30 580,40 610,38 C640,35 660,25 670,11"/>
 <path vector-effect="non-scaling-stroke" d="M540,160 C560,140 660,145 700,160 C720,180 710,200 680,205 C630,210 570,200 540,170 Z"/>
 <path vector-effect="non-scaling-stroke" d="M520,240 C580,250 640,250 697,250"/>
 <path vector-effect="non-scaling-stroke" d="M500,260 C540,300 600,330 697,340"/>
 <path vector-effect="non-scaling-stroke" d="M445,360 C470,380 480,395 485,410"/>
 <path vector-effect="non-scaling-stroke" d="M480,330 C500,360 530,380 560,399"/>
 <path vector-effect="non-scaling-stroke" d="M420,260 C480,300 540,340 600,370 C640,390 680,399 697,399"/>
 <path vector-effect="non-scaling-stroke" d="M380,399 C420,370 460,350 520,360"/>
</g></g>
<g transform="translate(150.0,281.0) scale(0.11328)"><g fill="none" stroke="#111" stroke-width="1.05">
 <path vector-effect="non-scaling-stroke" d="M0,70 C40,65 60,40 70,11"/>
 <path vector-effect="non-scaling-stroke" d="M250,11 C240,60 200,120 150,170 C100,220 50,290 20,410"/>
 <path vector-effect="non-scaling-stroke" d="M310,20 C330,40 420,50 500,60 C540,60 545,40 520,30 C460,20 380,15 310,20"/>
 <path vector-effect="non-scaling-stroke" d="M160,290 C190,240 260,220 320,235 C370,230 440,190 500,160 C520,160 520,185 490,200 C440,230 350,260 280,290 C220,310 170,310 160,290 Z"/>
 <path vector-effect="non-scaling-stroke" d="M90,410 C100,330 150,260 220,220 C260,200 300,190 340,185 C400,170 440,140 500,110 C530,95 550,85 570,80"/>
 <path vector-effect="non-scaling-stroke" d="M120,410 C180,350 280,320 380,300 C450,285 520,260 570,250"/>
 <path vector-effect="non-scaling-stroke" d="M270,410 C320,370 420,350 500,350 C530,350 550,360 570,370"/>
 <path vector-effect="non-scaling-stroke" d="M320,410 C380,385 460,375 570,385"/>
</g></g>
<line x1="36.6" y1="307.3" x2="290.7" y2="307.3" stroke="#2ca02c" stroke-width="1.3" stroke-dasharray="4.2,2.6"/>
<line x1="212.2" y1="326.2" x2="212.2" y2="282.2" stroke="#f0f" stroke-width="2.7" stroke-dasharray="10.5,2.9"/>
</g>
<rect x="36.6" y="282.2" width="67" height="13" fill="#fff" fill-opacity="0.75"/>
<text x="37.800000000000004" y="293.0" font-size="12" fill="#333" textLength="63.5" lengthAdjust="spacingAndGlyphs">(e) − TΩ<tspan font-size="8" dy="2">ci</tspan><tspan dy="-2"> = 40</tspan></text>
<rect x="36.6" y="282.2" width="254.1" height="44.0" fill="none" stroke="#000" stroke-width="1.1"/>
<line x1="33.1" y1="282.2" x2="36.6" y2="282.2" stroke="#000" stroke-width="1"/>
<text x="31.1" y="285.59999999999997" font-size="10.5" text-anchor="end" fill="#222">200</text>
<line x1="33.1" y1="316.4" x2="36.6" y2="316.4" stroke="#000" stroke-width="1"/>
<text x="31.1" y="319.79999999999995" font-size="10.5" text-anchor="end" fill="#222">150</text>
<line x1="59.9" y1="326.2" x2="59.9" y2="329.7" stroke="#000" stroke-width="1"/>
<line x1="118.60000000000001" y1="326.2" x2="118.60000000000001" y2="329.7" stroke="#000" stroke-width="1"/>
<line x1="177.3" y1="326.2" x2="177.3" y2="329.7" stroke="#000" stroke-width="1"/>
<line x1="236.00000000000003" y1="326.2" x2="236.00000000000003" y2="329.7" stroke="#000" stroke-width="1"/>
<text transform="translate(10,304.2) rotate(-90)" font-size="12" text-anchor="middle" font-style="italic" fill="#333">y/d<tspan font-size="8.5" dy="2">i</tspan></text>
<rect x="305.1" y="282.2" width="3.2" height="44.0" fill="url(#rdbu)" stroke="#000" stroke-width="0.8"/>
<line x1="308.3" y1="284.8" x2="311.8" y2="284.8" stroke="#000" stroke-width="0.9"/>
<text x="313.6" y="288.3" font-size="10.5" fill="#222">20</text>
<line x1="308.3" y1="304.2" x2="311.8" y2="304.2" stroke="#000" stroke-width="0.9"/>
<text x="313.6" y="307.7" font-size="10.5" fill="#222">0</text>
<line x1="308.3" y1="325.0" x2="311.8" y2="325.0" stroke="#000" stroke-width="0.9"/>
<text x="313.6" y="328.5" font-size="10.5" fill="#222">−20</text>
<text x="306.4" y="277.2" font-size="12" text-anchor="middle" font-style="italic" fill="#333">h<tspan font-size="8.5" dy="2">m</tspan></text>
<rect x="36.6" y="349.4" width="254.1" height="44.0" fill="#f5f5f5"/>
<g clip-path="url(#cp5)">
<g transform="translate(140.0,348.0) scale(0.12559)"><g filter="url(#f_f1)">
 <path d="M380,170 C400,140 440,130 450,150 C430,220 430,300 440,361 L380,361 Z" fill="#f8d5c4"/>
 <path d="M330,361 C360,300 380,220 400,200 L380,361 Z" fill="#f9ddd0"/>
 <path d="M440,150 C480,100 520,30 540,11 L637,11 L637,361 L430,361 C420,300 420,220 440,150 Z" fill="#a6cbe4"/>
 <path d="M450,250 C470,200 520,170 560,160 C600,170 637,200 637,260 L600,280 C560,250 500,270 450,250 Z" fill="#2f74b3"/>
 <ellipse cx="560" cy="335" rx="80" ry="45" fill="#0d3a73"/>
 <path d="M470,140 C500,120 560,90 600,80 L610,100 C560,120 510,150 480,170 Z" fill="#f0f4f7"/>
 <path d="M600,200 C620,180 637,170 637,170 L637,230 C620,230 600,220 600,200 Z" fill="#eef3f7"/>
 <path d="M520,40 C540,50 560,60 560,80 C545,80 530,70 520,40 Z" fill="#f3b9a0"/>
</g></g>
<g transform="translate(212.0,348.0) scale(0.12559)"><g filter="url(#f_f2)">
 <path d="M0,20 C60,20 100,60 110,120 C100,200 60,260 0,270 Z" fill="#9dc6e2"/>
 <path d="M0,100 C30,120 40,180 0,230 Z" fill="#4f8fc6"/>
 <path d="M0,300 C40,310 60,340 70,361 L0,361 Z" fill="#174f8f"/>
 <ellipse cx="210" cy="212" rx="88" ry="125" transform="rotate(-8 210 212)" fill="#9c1328"/>
 <ellipse cx="210" cy="205" rx="66" ry="100" transform="rotate(-8 210 205)" fill="#690320"/>
 <path d="M280,11 L360,11 C420,80 450,160 440,260 L400,280 C380,200 320,120 280,11 Z" fill="#a5cbe4"/>
 <path d="M330,60 C370,60 410,120 410,170 C400,195 360,185 340,150 C320,110 310,70 330,60 Z" fill="#0e3d78"/>
 <path d="M410,11 L627,11 L627,110 C560,110 480,100 430,70 Z" fill="#8a0c25"/>
 <path d="M470,120 C520,120 560,150 570,180 C540,200 490,190 470,150 Z" fill="#f0a68b"/>
 <path d="M400,290 C440,330 460,350 470,361 L400,361 Z" fill="#c8dfee"/>
</g></g>
<g transform="translate(140.0,348.0) scale(0.12559)"><g fill="none" stroke="#111" stroke-width="1.05">
 <path vector-effect="non-scaling-stroke" d="M120,11 C150,70 220,110 300,110 C360,100 390,60 400,11"/>
 <path vector-effect="non-scaling-stroke" d="M180,11 C200,40 240,55 280,50 C320,45 330,20 330,11"/>
 <path vector-effect="non-scaling-stroke" d="M180,200 C190,170 250,160 350,160 C320,190 270,230 220,235 C190,235 175,220 180,200 Z"/>
 <path vector-effect="non-scaling-stroke" d="M250,365 C330,290 380,200 440,140 C490,100 500,50 490,11"/>
 <path vector-effect="non-scaling-stroke" d="M440,361 C425,300 425,230 450,180 C470,150 520,120 560,90 C600,60 620,30 637,20"/>
 <path vector-effect="non-scaling-stroke" d="M450,250 C470,200 520,170 560,160 C600,170 637,200 637,260"/>
 <ellipse vector-effect="non-scaling-stroke" cx="565" cy="340" rx="65" ry="40"/>
 <ellipse vector-effect="non-scaling-stroke" cx="565" cy="345" rx="40" ry="25"/>
 <path vector-effect="non-scaling-stroke" d="M520,40 C540,50 560,60 560,80 C545,80 530,70 520,40 Z"/>
 <path vector-effect="non-scaling-stroke" d="M560,110 C590,100 610,120 600,140 C580,150 560,135 560,110 Z"/>
</g></g>
<g transform="translate(212.0,348.0) scale(0.12559)"><g fill="none" stroke="#111" stroke-width="1.05">
 <ellipse vector-effect="non-scaling-stroke" cx="210" cy="205" rx="62" ry="98" transform="rotate(-8 210 205)"/>
 <path vector-effect="non-scaling-stroke" d="M210,85 C290,85 310,160 305,230 C300,310 265,352 210,352 C150,352 120,290 122,215 C125,140 150,85 210,85 Z"/>
 <path vector-effect="non-scaling-stroke" d="M200,75 C120,85 100,160 105,240 C110,300 120,340 130,361"/>
 <path vector-effect="non-scaling-stroke" d="M215,60 C310,60 330,150 325,230 C320,300 300,340 290,361"/>
 <path vector-effect="non-scaling-stroke" d="M150,11 C80,50 70,150 75,240 C80,300 90,340 100,361"/>
 <path vector-effect="non-scaling-stroke" d="M250,11 C330,60 350,150 350,240 C350,300 340,340 330,361"/>
 <path vector-effect="non-scaling-stroke" d="M270,11 C350,70 375,150 378,240 C380,300 370,340 365,361"/>
 <path vector-effect="non-scaling-stroke" d="M290,11 C370,80 400,160 405,250 C408,300 400,340 400,361"/>
 <path vector-effect="non-scaling-stroke" d="M330,60 C370,60 410,120 410,170 C400,195 360,185 340,150 C320,110 310,70 330,60 Z"/>
 <path vector-effect="non-scaling-stroke" d="M360,11 C420,80 450,160 450,240 C450,300 440,340 440,361"/>
 <path vector-effect="non-scaling-stroke" d="M390,11 C440,70 470,140 480,220 C490,290 480,330 470,361"/>
 <path vector-effect="non-scaling-stroke" d="M0,20 C60,20 100,60 110,120 C100,200 60,260 0,270"/>
 <path vector-effect="non-scaling-stroke" d="M0,300 C40,310 60,340 70,361"/>
 <path vector-effect="non-scaling-stroke" d="M410,11 C440,60 490,90 560,100 C600,100 620,90 627,85"/>
 <path vector-effect="non-scaling-stroke" d="M450,11 C480,40 520,60 570,60 C600,60 620,40 627,30"/>
 <path vector-effect="non-scaling-stroke" d="M500,11 C520,30 550,35 580,30"/>
 <path vector-effect="non-scaling-stroke" d="M470,120 C520,120 560,150 570,180 C540,200 490,190 470,150 Z"/>
 <path vector-effect="non-scaling-stroke" d="M470,230 C540,240 590,260 627,250"/>
 <path vector-effect="non-scaling-stroke" d="M500,361 C530,320 580,300 627,300"/>
</g></g>
<line x1="36.6" y1="374.5" x2="290.7" y2="374.5" stroke="#2ca02c" stroke-width="1.3" stroke-dasharray="4.2,2.6"/>
<line x1="188.4" y1="393.4" x2="188.4" y2="349.4" stroke="#f0f" stroke-width="2.7" stroke-dasharray="10.5,2.9"/>
</g>
<rect x="36.6" y="349.4" width="67" height="13" fill="#fff" fill-opacity="0.75"/>
<text x="37.800000000000004" y="360.2" font-size="12" fill="#333" textLength="63.5" lengthAdjust="spacingAndGlyphs">(f) − TΩ<tspan font-size="8" dy="2">ci</tspan><tspan dy="-2"> = 50</tspan></text>
<rect x="36.6" y="349.4" width="254.1" height="44.0" fill="none" stroke="#000" stroke-width="1.1"/>
<line x1="33.1" y1="349.4" x2="36.6" y2="349.4" stroke="#000" stroke-width="1"/>
<text x="31.1" y="352.79999999999995" font-size="10.5" text-anchor="end" fill="#222">200</text>
<line x1="33.1" y1="383.59999999999997" x2="36.6" y2="383.59999999999997" stroke="#000" stroke-width="1"/>
<text x="31.1" y="386.99999999999994" font-size="10.5" text-anchor="end" fill="#222">150</text>
<line x1="59.9" y1="393.4" x2="59.9" y2="396.9" stroke="#000" stroke-width="1"/>
<line x1="118.60000000000001" y1="393.4" x2="118.60000000000001" y2="396.9" stroke="#000" stroke-width="1"/>
<line x1="177.3" y1="393.4" x2="177.3" y2="396.9" stroke="#000" stroke-width="1"/>
<line x1="236.00000000000003" y1="393.4" x2="236.00000000000003" y2="396.9" stroke="#000" stroke-width="1"/>
<text transform="translate(10,371.4) rotate(-90)" font-size="12" text-anchor="middle" font-style="italic" fill="#333">y/d<tspan font-size="8.5" dy="2">i</tspan></text>
<rect x="305.1" y="349.4" width="3.2" height="44.0" fill="url(#rdbu)" stroke="#000" stroke-width="0.8"/>
<line x1="308.3" y1="352.0" x2="311.8" y2="352.0" stroke="#000" stroke-width="0.9"/>
<text x="313.6" y="355.5" font-size="10.5" fill="#222">20</text>
<line x1="308.3" y1="371.4" x2="311.8" y2="371.4" stroke="#000" stroke-width="0.9"/>
<text x="313.6" y="374.9" font-size="10.5" fill="#222">0</text>
<line x1="308.3" y1="392.2" x2="311.8" y2="392.2" stroke="#000" stroke-width="0.9"/>
<text x="313.6" y="395.7" font-size="10.5" fill="#222">−20</text>
<text x="306.4" y="344.4" font-size="12" text-anchor="middle" font-style="italic" fill="#333">h<tspan font-size="8.5" dy="2">m</tspan></text>
<text x="59.9" y="406.8" font-size="10.5" text-anchor="middle" fill="#222">50</text>
<text x="118.60000000000001" y="406.8" font-size="10.5" text-anchor="middle" fill="#222">100</text>
<text x="177.3" y="406.8" font-size="10.5" text-anchor="middle" fill="#222">150</text>
<text x="236.00000000000003" y="406.8" font-size="10.5" text-anchor="middle" fill="#222">200</text>
<text x="164.7" y="420.2" font-size="12.5" text-anchor="middle" font-style="italic" fill="#333">x/d<tspan font-size="9" dy="2">i</tspan></text>
<g clip-path="url(#cpg)"><path d="M380.0,30.9 C389.3,31.0 424.6,31.1 435.7,31.7 C446.8,32.3 442.2,33.9 446.8,34.5 C451.4,35.1 457.9,35.2 463.5,35.1 C469.1,35.0 475.6,34.4 480.2,33.9 C484.8,33.4 486.4,32.5 491.4,32.3 C496.4,32.1 504.0,32.7 510.0,32.8 C516.0,32.9 522.1,33.3 527.3,32.8 C532.5,32.3 537.7,30.3 541.2,30.0 C544.7,29.7 546.4,29.6 548.2,30.9 C550.1,32.2 551.1,33.9 552.3,37.8 C553.4,41.7 554.2,48.0 555.1,54.5 C556.0,61.0 557.0,70.5 557.9,76.8 C558.8,83.1 559.5,89.1 560.7,92.1 C561.9,95.1 563.5,93.0 564.9,94.9 C566.3,96.8 566.0,101.9 569.0,103.3 C572.0,104.7 579.8,103.5 583.0,103.3 C586.2,103.1 585.3,102.1 588.5,101.9 C591.7,101.8 597.8,101.7 602.4,102.4 C607.0,103.1 612.2,105.2 616.4,106.0 C620.6,106.8 624.4,107.0 627.5,106.9 C630.6,106.8 634.0,105.5 635.3,105.2" fill="none" stroke="#ff7f0e" stroke-width="1.4" stroke-linejoin="round"/><path d="M380.0,30.0 C384.6,30.2 398.5,31.3 407.8,31.4 C417.1,31.4 423.6,30.4 435.7,30.3 C447.8,30.2 472.1,29.6 480.2,30.9 C488.3,32.1 483.0,33.4 484.4,37.8 C485.8,42.2 487.0,51.3 488.6,57.3 C490.2,63.3 492.2,67.0 494.1,74.0 C496.0,81.0 497.9,93.9 499.7,99.1 C501.5,104.3 503.6,103.6 505.0,105.0 C506.4,106.4 506.6,107.1 508.0,107.4 C509.4,107.7 509.3,106.8 513.4,106.9 C517.5,107.0 527.2,107.5 532.8,108.0 C538.4,108.5 542.1,109.5 546.8,110.2 C551.4,110.9 556.1,111.4 560.7,112.4 C565.3,113.4 570.4,115.4 574.6,116.3 C578.8,117.2 582.0,118.0 585.7,118.0 C589.4,118.0 591.8,117.0 596.9,116.3 C602.0,115.6 610.0,114.4 616.4,113.6 C622.8,112.8 632.1,111.9 635.3,111.6" fill="none" stroke="#2ca02c" stroke-width="1.4" stroke-linejoin="round"/><path d="M380.0,28.1 C381.0,28.0 381.8,27.7 386.0,27.5 C390.2,27.3 399.0,27.3 405.0,26.7 C411.0,26.1 416.2,24.6 421.8,23.9 C427.4,23.2 433.4,22.5 438.5,22.5 C443.6,22.5 448.2,23.4 452.4,23.9 C456.6,24.4 460.2,24.5 463.5,25.3 C466.8,26.1 468.6,28.6 471.9,28.9 C475.1,29.2 478.8,27.1 483.0,27.3 C487.2,27.5 492.5,29.3 497.0,30.0 C501.5,30.7 504.9,31.3 510.0,31.7 C515.0,32.1 521.6,32.4 527.3,32.3 C533.0,32.2 539.4,31.5 544.0,30.9 C548.6,30.3 550.0,29.1 555.1,28.9 C560.2,28.7 569.0,29.3 574.6,29.5 C580.2,29.7 584.3,30.1 588.5,30.0 C592.7,29.9 595.5,29.1 599.7,28.9 C603.9,28.7 610.8,27.9 613.6,28.9 C616.4,29.9 615.5,29.0 616.4,35.1 C617.3,41.2 618.3,54.1 619.1,65.7 C619.9,77.3 620.8,96.5 621.4,104.7 C622.0,113.0 622.0,114.8 622.5,115.2 C623.0,115.7 623.9,111.0 624.7,107.4 C625.5,103.8 626.6,96.5 627.5,93.5 C628.4,90.5 629.5,88.4 630.3,89.3 C631.1,90.2 631.7,95.1 632.5,99.1 C633.3,103.0 634.8,110.7 635.3,113.0" fill="none" stroke="#1f77b4" stroke-width="1.4" stroke-linejoin="round"/></g>
<rect x="381.8" y="13.7" width="253.49999999999994" height="111.0" fill="none" stroke="#333" stroke-width="1"/>
<rect x="383.8" y="15.7" width="17" height="16" fill="#fff" fill-opacity="0.85"/>
<text x="385.3" y="26.9" font-size="12.5" fill="#222">(g)</text>
<line x1="378.3" y1="13.499999999999986" x2="381.8" y2="13.499999999999986" stroke="#333" stroke-width="0.9"/>
<text x="376.3" y="16.899999999999984" font-size="10.5" text-anchor="end" fill="#222">3</text>
<line x1="378.3" y1="45.099999999999994" x2="381.8" y2="45.099999999999994" stroke="#333" stroke-width="0.9"/>
<text x="376.3" y="48.49999999999999" font-size="10.5" text-anchor="end" fill="#222">2</text>
<line x1="378.3" y1="76.69999999999999" x2="381.8" y2="76.69999999999999" stroke="#333" stroke-width="0.9"/>
<text x="376.3" y="80.1" font-size="10.5" text-anchor="end" fill="#222">1</text>
<line x1="378.3" y1="108.3" x2="381.8" y2="108.3" stroke="#333" stroke-width="0.9"/>
<text x="376.3" y="111.7" font-size="10.5" text-anchor="end" fill="#222">0</text>
<line x1="381.8" y1="124.7" x2="381.8" y2="128.2" stroke="#333" stroke-width="0.9"/>
<line x1="416.34285714285716" y1="124.7" x2="416.34285714285716" y2="128.2" stroke="#333" stroke-width="0.9"/>
<line x1="450.8857142857143" y1="124.7" x2="450.8857142857143" y2="128.2" stroke="#333" stroke-width="0.9"/>
<line x1="485.42857142857144" y1="124.7" x2="485.42857142857144" y2="128.2" stroke="#333" stroke-width="0.9"/>
<line x1="519.9714285714285" y1="124.7" x2="519.9714285714285" y2="128.2" stroke="#333" stroke-width="0.9"/>
<line x1="554.5142857142857" y1="124.7" x2="554.5142857142857" y2="128.2" stroke="#333" stroke-width="0.9"/>
<line x1="589.0571428571429" y1="124.7" x2="589.0571428571429" y2="128.2" stroke="#333" stroke-width="0.9"/>
<line x1="623.6" y1="124.7" x2="623.6" y2="128.2" stroke="#333" stroke-width="0.9"/>
<g clip-path="url(#cph)"><path d="M380.0,203.5 C381.8,202.7 387.8,199.4 391.0,198.8 C394.2,198.2 396.1,199.5 399.3,200.2 C402.5,200.9 406.7,202.4 410.4,203.0 C414.1,203.6 417.9,204.1 421.4,203.5 C424.8,202.9 428.8,199.5 431.1,199.6 C433.4,199.7 433.1,202.1 435.2,204.3 C437.3,206.5 440.7,211.4 443.5,212.6 C446.3,213.8 448.6,210.7 451.8,211.2 C455.0,211.7 460.1,214.6 462.8,215.4 C465.6,216.2 465.5,216.8 468.3,216.2 C471.1,215.6 476.2,212.2 479.4,211.8 C482.6,211.4 485.3,214.5 487.6,214.0 C489.9,213.5 491.4,211.8 493.2,209.0 C495.0,206.2 496.9,198.4 498.7,197.4 C500.5,196.4 501.3,201.8 504.2,203.0 C507.1,204.2 512.2,204.8 516.0,204.3 C519.8,203.8 523.2,201.7 527.1,200.2 C531.0,198.7 536.3,195.8 539.5,195.2 C542.7,194.6 543.6,196.9 546.4,196.9 C549.2,196.9 553.3,194.6 556.1,195.2 C558.9,195.8 560.5,198.1 563.0,200.2 C565.5,202.3 568.9,207.2 571.2,207.9 C573.5,208.6 574.0,205.0 576.8,204.3 C579.6,203.6 583.7,204.0 587.8,203.8 C591.9,203.6 596.5,203.2 601.6,203.0 C606.7,202.8 615.0,202.2 618.2,202.4 C621.4,202.6 620.0,201.9 620.9,204.3 C621.8,206.7 622.8,215.0 623.7,216.8 C624.6,218.7 625.5,215.3 626.4,215.4 C627.3,215.5 628.3,218.5 629.2,217.3 C630.1,216.2 630.7,210.4 632.0,208.5 C633.3,206.6 636.2,206.2 637.0,205.7" fill="none" stroke="#1f77b4" stroke-width="1.4" stroke-linejoin="round"/><path d="M380.0,204.3 C382.8,204.3 391.5,203.2 396.6,204.3 C401.7,205.4 406.7,210.5 410.4,210.7 C414.1,210.9 415.4,206.9 418.6,205.7 C421.8,204.5 426.0,203.5 429.7,203.5 C433.4,203.5 436.6,205.8 440.7,205.7 C444.8,205.6 449.9,203.0 454.5,203.0 C459.1,203.0 464.6,205.6 468.3,205.7 C472.0,205.8 472.9,203.8 476.6,203.5 C480.3,203.2 485.7,203.9 490.4,203.8 C495.1,203.7 500.7,203.1 505.0,203.0 C509.3,202.9 512.5,204.8 516.0,203.5 C519.5,202.2 522.9,194.1 525.7,195.2 C528.5,196.3 530.5,207.3 532.6,209.9 C534.7,212.5 536.0,210.7 538.1,210.7 C540.2,210.7 542.9,209.8 545.0,209.9 C547.1,210.0 549.1,206.8 550.5,211.2 C551.9,215.6 552.4,228.5 553.3,236.1 C554.2,243.7 555.2,253.1 556.1,256.8 C557.0,260.5 558.1,259.8 558.8,258.2 C559.5,256.6 559.5,252.8 560.2,247.1 C560.9,241.3 562.1,227.1 563.0,223.7 C563.9,220.2 564.6,225.7 565.7,226.4 C566.9,227.1 568.8,231.5 569.9,227.8 C571.0,224.1 571.5,208.5 572.6,204.3 C573.8,200.1 575.2,203.1 576.8,202.4 C578.4,201.7 580.5,203.3 582.3,200.2 C584.1,197.1 586.2,188.9 587.8,183.6 C589.4,178.3 590.8,170.6 591.9,168.5 C593.0,166.4 593.8,166.8 594.7,171.2 C595.6,175.6 596.6,189.6 597.5,194.7 C598.4,199.8 598.6,200.0 600.2,201.6 C601.8,203.2 605.2,201.9 607.1,204.3 C609.0,206.7 609.9,215.4 611.3,216.2 C612.7,217.0 613.3,210.3 615.4,209.0 C617.5,207.7 621.4,208.9 623.7,208.5 C626.0,208.1 627.0,206.8 629.2,206.3 C631.4,205.8 635.7,205.8 637.0,205.7" fill="none" stroke="#ff7f0e" stroke-width="1.4" stroke-linejoin="round"/><path d="M380.0,203.5 C384.6,203.5 398.4,203.7 407.6,203.5 C416.8,203.3 426.0,202.6 435.2,202.4 C444.4,202.2 455.4,202.1 462.8,202.4 C470.2,202.7 475.3,202.9 479.4,204.3 C483.5,205.7 485.3,209.8 487.6,210.7 C489.9,211.6 491.8,212.6 493.2,209.9 C494.6,207.2 495.0,198.4 495.9,194.7 C496.8,191.0 497.8,188.7 498.7,187.8 C499.6,186.9 500.5,189.9 501.4,189.2 C502.3,188.5 503.1,184.5 504.2,183.6 C505.3,182.7 506.8,183.4 507.8,183.6 C508.9,183.8 509.6,185.2 510.5,185.0 C511.4,184.8 511.9,183.0 513.3,182.3 C514.7,181.6 517.0,180.3 518.8,180.9 C520.6,181.5 522.5,185.0 524.3,185.9 C526.1,186.8 528.4,184.5 529.8,186.4 C531.2,188.3 531.2,194.4 532.6,197.4 C534.0,200.4 536.3,204.3 538.1,204.3 C539.9,204.3 542.2,196.7 543.6,197.4 C545.0,198.1 545.5,202.5 546.4,208.5 C547.3,214.5 547.8,228.7 549.2,233.3 C550.6,237.9 552.9,234.7 554.7,236.1 C556.5,237.5 558.8,240.2 560.2,241.6 C561.6,243.0 562.1,245.3 563.0,244.4 C563.9,243.5 564.6,239.8 565.7,236.1 C566.9,232.4 568.8,227.4 569.9,222.3 C571.0,217.2 571.5,208.9 572.6,205.7 C573.8,202.5 574.7,204.2 576.8,203.0 C578.9,201.8 582.9,200.9 585.0,198.8 C587.1,196.7 587.8,191.4 589.2,190.5 C590.6,189.6 591.7,191.5 593.3,193.3 C594.9,195.2 596.9,200.0 598.8,201.6 C600.6,203.2 602.5,202.6 604.4,203.0 C606.2,203.4 607.6,204.1 609.9,204.3 C612.2,204.5 615.9,203.5 618.2,204.3 C620.5,205.1 621.9,208.4 623.7,209.0 C625.5,209.6 627.0,208.5 629.2,207.9 C631.4,207.3 635.7,206.1 637.0,205.7" fill="none" stroke="#2ca02c" stroke-width="1.4" stroke-linejoin="round"/></g>
<rect x="381.8" y="148.0" width="253.49999999999994" height="110.80000000000001" fill="none" stroke="#333" stroke-width="1"/>
<rect x="383.8" y="150.0" width="17" height="16" fill="#fff" fill-opacity="0.85"/>
<text x="385.3" y="161.2" font-size="12.5" fill="#222">(h)</text>
<line x1="378.3" y1="154.60000000000002" x2="381.8" y2="154.60000000000002" stroke="#333" stroke-width="0.9"/>
<text x="376.3" y="158.00000000000003" font-size="10.5" text-anchor="end" fill="#222">40</text>
<line x1="378.3" y1="179.20000000000002" x2="381.8" y2="179.20000000000002" stroke="#333" stroke-width="0.9"/>
<text x="376.3" y="182.60000000000002" font-size="10.5" text-anchor="end" fill="#222">20</text>
<line x1="378.3" y1="203.8" x2="381.8" y2="203.8" stroke="#333" stroke-width="0.9"/>
<text x="376.3" y="207.20000000000002" font-size="10.5" text-anchor="end" fill="#222">0</text>
<line x1="378.3" y1="228.4" x2="381.8" y2="228.4" stroke="#333" stroke-width="0.9"/>
<text x="376.3" y="231.8" font-size="10.5" text-anchor="end" fill="#222">−20</text>
<line x1="378.3" y1="253.0" x2="381.8" y2="253.0" stroke="#333" stroke-width="0.9"/>
<text x="376.3" y="256.4" font-size="10.5" text-anchor="end" fill="#222">−40</text>
<line x1="381.8" y1="258.8" x2="381.8" y2="262.3" stroke="#333" stroke-width="0.9"/>
<line x1="416.34285714285716" y1="258.8" x2="416.34285714285716" y2="262.3" stroke="#333" stroke-width="0.9"/>
<line x1="450.8857142857143" y1="258.8" x2="450.8857142857143" y2="262.3" stroke="#333" stroke-width="0.9"/>
<line x1="485.42857142857144" y1="258.8" x2="485.42857142857144" y2="262.3" stroke="#333" stroke-width="0.9"/>
<line x1="519.9714285714285" y1="258.8" x2="519.9714285714285" y2="262.3" stroke="#333" stroke-width="0.9"/>
<line x1="554.5142857142857" y1="258.8" x2="554.5142857142857" y2="262.3" stroke="#333" stroke-width="0.9"/>
<line x1="589.0571428571429" y1="258.8" x2="589.0571428571429" y2="262.3" stroke="#333" stroke-width="0.9"/>
<line x1="623.6" y1="258.8" x2="623.6" y2="262.3" stroke="#333" stroke-width="0.9"/>
<g clip-path="url(#cpi)"><path d="M380.0,382.1 C381.4,382.3 385.5,383.7 388.3,383.5 C391.1,383.3 393.4,381.4 396.6,380.7 C399.8,380.0 404.9,380.5 407.6,379.4 C410.4,378.2 411.5,376.3 413.1,373.8 C414.7,371.3 415.9,364.6 417.3,364.2 C418.7,363.8 419.8,368.2 421.4,371.1 C423.0,374.0 424.6,380.0 426.9,381.6 C429.2,383.2 432.0,381.0 435.2,380.7 C438.4,380.4 441.6,379.9 446.2,379.9 C450.8,379.9 458.2,380.6 462.8,380.7 C467.4,380.8 470.1,380.4 473.8,380.7 C477.5,381.0 481.2,382.7 484.9,382.7 C488.6,382.7 492.5,381.0 495.9,380.7 C499.2,380.4 501.6,380.8 505.0,380.7 C508.4,380.6 512.3,380.0 516.0,379.9 C519.7,379.8 523.9,380.4 527.1,379.9 C530.3,379.3 533.1,376.5 535.4,376.6 C537.7,376.7 538.1,379.7 540.9,380.7 C543.6,381.7 547.8,382.4 551.9,382.7 C556.0,383.0 562.0,382.9 565.7,382.7 C569.4,382.5 571.2,381.2 574.0,381.6 C576.8,382.0 579.1,384.3 582.3,384.9 C585.5,385.4 590.1,384.4 593.3,384.9 C596.5,385.3 598.8,388.1 601.6,387.6 C604.4,387.1 607.1,383.7 609.9,382.1 C612.7,380.5 615.9,379.1 618.2,378.0 C620.5,376.9 622.3,379.8 623.7,375.2 C625.1,370.6 625.5,353.8 626.4,350.4 C627.3,346.9 628.1,355.8 629.2,354.5 C630.4,353.2 632.0,343.3 633.3,342.9 C634.6,342.4 636.4,350.3 637.0,351.8" fill="none" stroke="#1f77b4" stroke-width="1.4" stroke-linejoin="round"/><path d="M380.0,380.7 C382.3,380.9 389.2,381.6 393.8,381.6 C398.4,381.6 403.9,380.5 407.6,380.7 C411.3,380.9 413.6,381.9 415.9,382.7 C418.2,383.5 418.2,384.8 421.4,385.4 C424.6,386.0 431.1,386.3 435.2,386.3 C439.3,386.3 443.0,386.9 446.2,385.4 C449.4,383.9 452.4,379.1 454.5,377.2 C456.6,375.3 457.3,373.9 458.7,373.8 C460.1,373.7 461.2,375.3 462.8,376.6 C464.4,377.9 465.5,380.9 468.3,381.6 C471.1,382.3 475.7,380.7 479.4,380.7 C483.1,380.7 487.6,381.5 490.4,381.6 C493.1,381.8 494.3,381.8 495.9,381.6 C497.5,381.5 499.0,385.6 500.1,380.7 C501.2,375.8 501.8,363.0 502.8,352.2 C503.9,341.4 505.3,319.6 506.4,315.9 C507.4,312.2 508.2,320.4 509.1,330.0 C510.0,339.6 510.8,364.9 511.9,373.8 C513.0,382.7 514.4,382.4 516.0,383.5 C517.6,384.6 519.8,380.7 521.6,380.7 C523.5,380.7 525.5,382.6 527.1,383.5 C528.7,384.4 529.8,387.0 531.2,386.3 C532.6,385.6 533.8,380.1 535.4,379.4 C537.0,378.7 538.4,382.1 540.9,382.1 C543.4,382.1 548.4,384.9 550.5,379.4 C552.6,373.9 552.5,358.0 553.3,349.0 C554.1,340.0 554.7,328.3 555.5,325.5 C556.3,322.7 557.0,333.8 558.0,332.4 C559.0,331.0 560.6,317.8 561.6,317.3 C562.6,316.9 563.4,325.1 564.3,329.7 C565.2,334.3 566.3,339.4 567.1,344.9 C567.9,350.4 568.3,356.8 569.0,362.8 C569.7,368.8 569.9,376.6 571.2,380.7 C572.5,384.8 574.9,387.4 576.8,387.6 C578.6,387.8 580.7,387.6 582.3,382.1 C583.9,376.6 585.0,362.6 586.4,354.5 C587.8,346.4 589.5,335.9 590.6,333.8 C591.8,331.7 592.4,335.9 593.3,342.1 C594.2,348.3 595.2,364.2 596.1,371.1 C597.0,378.0 597.4,382.4 598.8,383.5 C600.2,384.6 602.8,379.1 604.4,378.0 C606.0,376.9 607.1,382.0 608.5,376.6 C609.9,371.2 611.2,350.6 612.6,345.9 C614.0,341.2 614.9,346.8 616.8,348.6 C618.6,350.4 621.4,354.8 623.7,356.9 C626.0,359.0 628.8,359.7 630.6,361.1 C632.4,362.5 633.6,365.0 634.7,365.2 C635.8,365.4 636.6,362.9 637.0,362.4" fill="none" stroke="#ff7f0e" stroke-width="1.4" stroke-linejoin="round"/><path d="M380.0,380.7 C384.6,380.9 398.4,381.5 407.6,381.6 C416.8,381.8 426.0,381.8 435.2,381.6 C444.4,381.5 455.4,380.5 462.8,380.7 C470.2,380.9 475.3,382.9 479.4,382.7 C483.5,382.5 485.3,380.6 487.6,379.4 C489.9,378.1 491.4,375.2 493.2,375.2 C495.0,375.2 497.1,382.8 498.7,379.4 C500.3,375.9 501.8,357.7 502.8,354.5 C503.9,351.3 504.2,357.2 505.0,360.0 C505.8,362.8 506.9,370.6 507.8,371.1 C508.7,371.6 509.6,367.4 510.5,362.8 C511.4,358.2 512.3,352.5 513.3,343.5 C514.3,334.5 515.7,311.3 516.6,309.0 C517.5,306.7 518.0,321.4 518.8,329.7 C519.6,338.0 520.7,354.6 521.6,358.7 C522.5,362.8 523.4,357.7 524.3,354.5 C525.2,351.3 526.2,340.2 527.1,339.3 C528.0,338.4 528.9,343.7 529.8,349.0 C530.7,354.3 531.7,368.0 532.6,371.1 C533.5,374.2 534.2,365.7 535.4,367.8 C536.5,369.9 538.1,382.9 539.5,383.5 C540.9,384.1 542.2,377.8 543.6,371.1 C545.0,364.4 546.4,352.7 547.8,343.5 C549.2,334.3 550.8,319.8 551.9,315.9 C553.0,312.0 553.8,319.8 554.7,320.0 C555.6,320.2 556.5,316.6 557.4,317.3 C558.3,318.0 559.1,319.4 560.2,324.2 C561.4,329.0 562.9,339.8 564.3,346.2 C565.7,352.6 567.2,357.1 568.4,362.8 C569.5,368.6 569.8,377.4 571.2,380.7 C572.6,384.0 574.5,382.2 576.8,382.7 C579.1,383.2 582.2,383.1 585.0,383.5 C587.8,383.9 590.5,385.5 593.3,385.4 C596.1,385.3 598.8,384.8 601.6,382.7 C604.4,380.6 607.6,374.0 609.9,372.5 C612.2,371.0 613.1,373.4 615.4,373.8 C617.7,374.2 621.4,375.0 623.7,375.2 C626.0,375.4 627.0,374.7 629.2,375.2 C631.4,375.7 635.7,377.5 637.0,378.0" fill="none" stroke="#2ca02c" stroke-width="1.4" stroke-linejoin="round"/><line x1="381.8" y1="380.85" x2="635.3" y2="380.85" stroke="#000" stroke-width="1.6" stroke-dasharray="6,2.5,1.5,2.5"/></g>
<rect x="381.8" y="282.4" width="253.49999999999994" height="110.90000000000003" fill="none" stroke="#333" stroke-width="1"/>
<rect x="383.8" y="284.4" width="17" height="16" fill="#fff" fill-opacity="0.85"/>
<text x="385.3" y="295.59999999999997" font-size="12.5" fill="#222">(i)</text>
<line x1="378.3" y1="295.1" x2="381.8" y2="295.1" stroke="#333" stroke-width="0.9"/>
<text x="376.3" y="298.5" font-size="10.5" text-anchor="end" fill="#222">8</text>
<line x1="378.3" y1="319.6" x2="381.8" y2="319.6" stroke="#333" stroke-width="0.9"/>
<text x="376.3" y="323.0" font-size="10.5" text-anchor="end" fill="#222">6</text>
<line x1="378.3" y1="344.1" x2="381.8" y2="344.1" stroke="#333" stroke-width="0.9"/>
<text x="376.3" y="347.5" font-size="10.5" text-anchor="end" fill="#222">4</text>
<line x1="378.3" y1="368.6" x2="381.8" y2="368.6" stroke="#333" stroke-width="0.9"/>
<text x="376.3" y="372.0" font-size="10.5" text-anchor="end" fill="#222">2</text>
<line x1="378.3" y1="393.1" x2="381.8" y2="393.1" stroke="#333" stroke-width="0.9"/>
<text x="376.3" y="396.5" font-size="10.5" text-anchor="end" fill="#222">0</text>
<line x1="381.8" y1="393.3" x2="381.8" y2="396.8" stroke="#333" stroke-width="0.9"/>
<line x1="416.34285714285716" y1="393.3" x2="416.34285714285716" y2="396.8" stroke="#333" stroke-width="0.9"/>
<line x1="450.8857142857143" y1="393.3" x2="450.8857142857143" y2="396.8" stroke="#333" stroke-width="0.9"/>
<line x1="485.42857142857144" y1="393.3" x2="485.42857142857144" y2="396.8" stroke="#333" stroke-width="0.9"/>
<line x1="519.9714285714285" y1="393.3" x2="519.9714285714285" y2="396.8" stroke="#333" stroke-width="0.9"/>
<line x1="554.5142857142857" y1="393.3" x2="554.5142857142857" y2="396.8" stroke="#333" stroke-width="0.9"/>
<line x1="589.0571428571429" y1="393.3" x2="589.0571428571429" y2="396.8" stroke="#333" stroke-width="0.9"/>
<line x1="623.6" y1="393.3" x2="623.6" y2="396.8" stroke="#333" stroke-width="0.9"/>
<text x="381.8" y="406.8" font-size="10.5" text-anchor="middle" fill="#222">100</text>
<text x="416.34285714285716" y="406.8" font-size="10.5" text-anchor="middle" fill="#222">120</text>
<text x="450.8857142857143" y="406.8" font-size="10.5" text-anchor="middle" fill="#222">140</text>
<text x="485.42857142857144" y="406.8" font-size="10.5" text-anchor="middle" fill="#222">160</text>
<text x="519.9714285714285" y="406.8" font-size="10.5" text-anchor="middle" fill="#222">180</text>
<text x="554.5142857142857" y="406.8" font-size="10.5" text-anchor="middle" fill="#222">200</text>
<text x="589.0571428571429" y="406.8" font-size="10.5" text-anchor="middle" fill="#222">220</text>
<text x="623.6" y="406.8" font-size="10.5" text-anchor="middle" fill="#222">240</text>
<text x="509.5" y="420.2" font-size="12.5" text-anchor="middle" font-style="italic" fill="#333">x/d<tspan font-size="9" dy="2">i</tspan></text>
<text transform="translate(362.5,69.2) rotate(-90)" font-size="11" text-anchor="middle" fill="#222">⟨<tspan font-style="italic">U<tspan font-size="7" dy="2">x</tspan></tspan><tspan dy="-2">⟩</tspan><tspan font-size="7" dy="2" font-style="italic">y</tspan><tspan dy="-2" font-style="italic">/v</tspan><tspan font-size="7" dy="2">A</tspan></text>
<text transform="translate(352.5,203.4) rotate(-90)" font-size="11.5" text-anchor="middle" fill="#222" font-style="italic">h<tspan font-size="7" dy="2">m</tspan><tspan dy="-2" font-style="normal"> = </tspan>b<tspan font-size="7" dy="2">z</tspan><tspan dy="-2">a</tspan><tspan font-size="7" dy="2">z</tspan></text>
<text transform="translate(362.5,337.9) rotate(-90)" font-size="11" text-anchor="middle" fill="#222" font-style="italic">T<tspan font-size="7" dy="2">⊥</tspan><tspan dy="-2">/T</tspan><tspan font-size="7" dy="2">||</tspan></text>
<rect x="386.3" y="71.8" width="77" height="47.9" rx="2" fill="#fff" fill-opacity="0.85" stroke="#d5d5d5" stroke-width="0.8"/>
<line x1="391" y1="80.5" x2="411" y2="80.5" stroke="#1f77b4" stroke-width="1.5"/>
<text x="417.7" y="84.3" font-size="11" fill="#222" textLength="41.6" lengthAdjust="spacingAndGlyphs">TΩ<tspan font-size="8" dy="2">ci</tspan><tspan dy="-2"> = 10</tspan></text>
<line x1="391" y1="95.5" x2="411" y2="95.5" stroke="#ff7f0e" stroke-width="1.5"/>
<text x="417.7" y="99.3" font-size="11" fill="#222" textLength="41.6" lengthAdjust="spacingAndGlyphs">TΩ<tspan font-size="8" dy="2">ci</tspan><tspan dy="-2"> = 30</tspan></text>
<line x1="391" y1="110.5" x2="411" y2="110.5" stroke="#2ca02c" stroke-width="1.5"/>
<text x="417.7" y="114.3" font-size="11" fill="#222" textLength="41.6" lengthAdjust="spacingAndGlyphs">TΩ<tspan font-size="8" dy="2">ci</tspan><tspan dy="-2"> = 50</tspan></text>
</svg></body></html>
